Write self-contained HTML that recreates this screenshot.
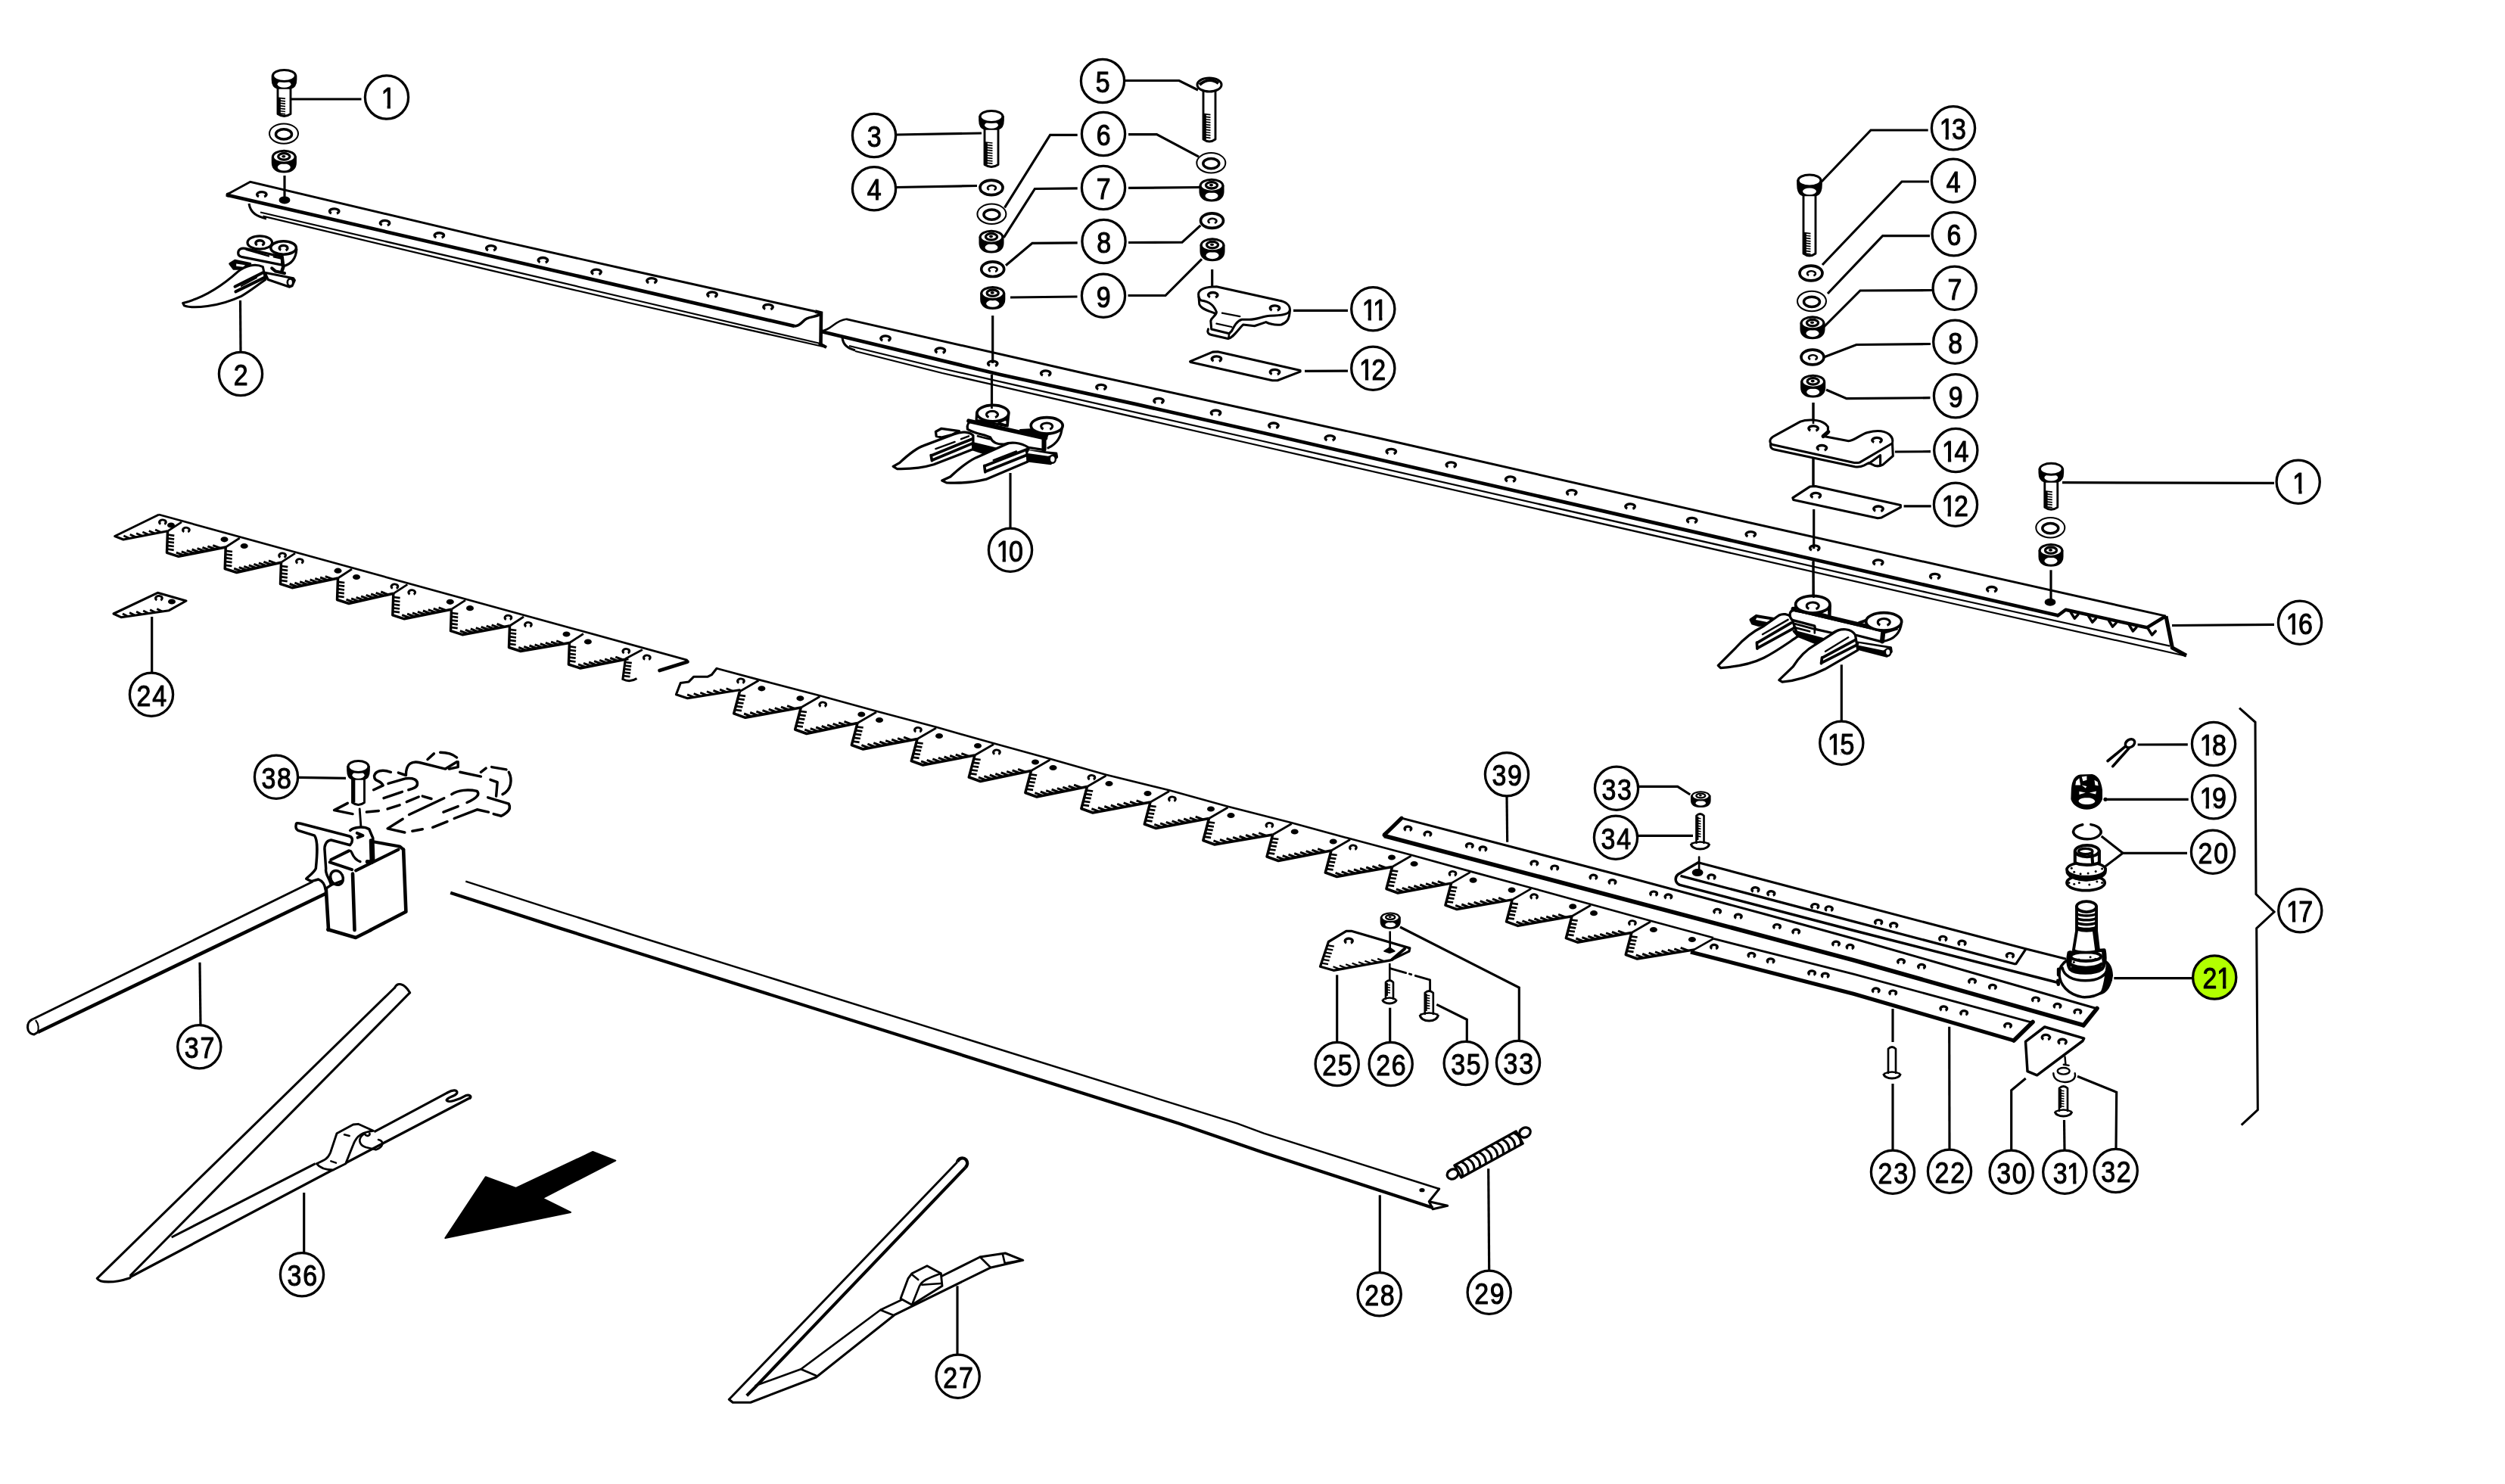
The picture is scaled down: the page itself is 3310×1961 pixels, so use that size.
<!DOCTYPE html>
<html lang="en"><head><meta charset="utf-8"><title>Parts diagram</title>
<style>
html,body{margin:0;padding:0;background:#fff;}
body{width:3310px;height:1961px;overflow:hidden;}
svg{display:block;position:absolute;left:0;top:0;}
svg{filter:blur(0.45px);}
svg text{font-family:"Liberation Sans",sans-serif;fill:#000;stroke:#000;stroke-width:1.15px;stroke-linejoin:round;}
</style></head><body>
<svg width="3310" height="1961" viewBox="0 0 3310 1961" fill="none" stroke-linecap="butt">
<line x1="384" y1="131" x2="477.5" y2="131" stroke="#000" stroke-width="3.16" />
<line x1="317.5" y1="397" x2="318" y2="465" stroke="#000" stroke-width="3.16" />
<polyline points="1184,178 1297,176" fill="none" stroke="#000" stroke-width="3.16" />
<polyline points="1184,247.5 1291,245.5" fill="none" stroke="#000" stroke-width="3.16" />
<polyline points="1487,106.5 1558,106.5 1583,119" fill="none" stroke="#000" stroke-width="3.16" />
<polyline points="1423.7,178.4 1387.6,178.4 1327.5,274.4" fill="none" stroke="#000" stroke-width="3.16" />
<polyline points="1491,177.6 1528.5,177.6 1584,207.2" fill="none" stroke="#000" stroke-width="3.16" />
<polyline points="1423.7,248.9 1367.4,249.5 1326.3,313.8" fill="none" stroke="#000" stroke-width="3.16" />
<polyline points="1491,248.4 1586.4,247.5" fill="none" stroke="#000" stroke-width="3.16" />
<polyline points="1423.7,320.8 1364,321.3 1329,350.7" fill="none" stroke="#000" stroke-width="3.16" />
<polyline points="1491,320.5 1562,320.2 1586.4,297.9" fill="none" stroke="#000" stroke-width="3.16" />
<polyline points="1423.5,392 1335,393" fill="none" stroke="#000" stroke-width="3.16" />
<polyline points="1490.5,390.5 1540,390.5 1588,342.3" fill="none" stroke="#000" stroke-width="3.16" />
<line x1="1335" y1="625" x2="1335" y2="698" stroke="#000" stroke-width="3.16" />
<line x1="1709" y1="410.3" x2="1781" y2="410.3" stroke="#000" stroke-width="3.16" />
<line x1="1724" y1="490.4" x2="1781" y2="490.2" stroke="#000" stroke-width="3.16" />
<polyline points="2407,240 2472,172 2547.7,172" fill="none" stroke="#000" stroke-width="3.16" />
<polyline points="2549,240 2513,240 2408,350" fill="none" stroke="#000" stroke-width="3.16" />
<polyline points="2550,311.7 2487.7,311.7 2415,388" fill="none" stroke="#000" stroke-width="3.16" />
<polyline points="2553,383.5 2458,384 2410,432" fill="none" stroke="#000" stroke-width="3.16" />
<polyline points="2551,454.5 2453,455.5 2410,472" fill="none" stroke="#000" stroke-width="3.16" />
<polyline points="2550.5,525.7 2440,526.7 2413,515" fill="none" stroke="#000" stroke-width="3.16" />
<line x1="2503.9" y1="597" x2="2551" y2="596.7" stroke="#000" stroke-width="3.16" />
<line x1="2515.6" y1="668.8" x2="2551.7" y2="668.8" stroke="#000" stroke-width="3.16" />
<line x1="2725" y1="637.7" x2="3005" y2="638.3" stroke="#000" stroke-width="3.16" />
<line x1="2870" y1="826.5" x2="3005" y2="825.3" stroke="#000" stroke-width="3.16" />
<line x1="2433.3" y1="878.3" x2="2433.3" y2="952" stroke="#000" stroke-width="3.16" />
<line x1="200.7" y1="815" x2="200.7" y2="889" stroke="#000" stroke-width="3.16" />
<line x1="395" y1="1027.3" x2="457" y2="1028.3" stroke="#000" stroke-width="3.16" />
<line x1="264" y1="1271.7" x2="265" y2="1355" stroke="#000" stroke-width="3.16" />
<line x1="401.7" y1="1576" x2="401.7" y2="1656" stroke="#000" stroke-width="3.16" />
<line x1="1265" y1="1699.3" x2="1265" y2="1790" stroke="#000" stroke-width="3.16" />
<line x1="1823.3" y1="1579.3" x2="1823.3" y2="1682" stroke="#000" stroke-width="3.16" />
<polyline points="1966.7,1544.3 1967.7,1679" fill="none" stroke="#000" stroke-width="3.16" />
<line x1="1991" y1="1052" x2="1991.7" y2="1112.7" stroke="#000" stroke-width="3.16" />
<polyline points="2165,1039.3 2216.7,1039.3 2233.3,1050" fill="none" stroke="#000" stroke-width="3.16" />
<line x1="2164" y1="1104.3" x2="2237" y2="1104.3" stroke="#000" stroke-width="3.16" />
<line x1="1766.7" y1="1288.3" x2="1766.7" y2="1378" stroke="#000" stroke-width="3.16" />
<line x1="1836.7" y1="1331.7" x2="1836.7" y2="1378" stroke="#000" stroke-width="3.16" />
<polyline points="1898.3,1327.3 1938.3,1347.3 1938.3,1377" fill="none" stroke="#000" stroke-width="3.16" />
<polyline points="1850,1225 2007.3,1305 2007.3,1376" fill="none" stroke="#000" stroke-width="3.16" />
<line x1="2824.6" y1="984" x2="2890.8" y2="983.8" stroke="#000" stroke-width="3.16" />
<line x1="2780" y1="1056.4" x2="2891.7" y2="1056.4" stroke="#000" stroke-width="3.16" />
<polyline points="2776.7,1105 2805,1127.3 2781.7,1145" fill="none" stroke="#000" stroke-width="3.16" />
<line x1="2805" y1="1127.3" x2="2890" y2="1127.3" stroke="#000" stroke-width="3.16" />
<line x1="2793.3" y1="1292.7" x2="2897" y2="1292.7" stroke="#000" stroke-width="3.16" />
<polyline points="2959,935.7 2980,954.3 2981,1181.7 3005,1205 2981.7,1226.7 2983.3,1466.7 2961.7,1486.7" fill="none" stroke="#000" stroke-width="3.06" />
<line x1="2501" y1="1333" x2="2501" y2="1377" stroke="#000" stroke-width="3.16" />
<line x1="2501" y1="1432" x2="2501" y2="1520" stroke="#000" stroke-width="3.16" />
<line x1="2575.7" y1="1356.7" x2="2576" y2="1519" stroke="#000" stroke-width="3.16" />
<polyline points="2676.7,1425 2657.7,1440.7 2657.7,1520" fill="none" stroke="#000" stroke-width="3.16" />
<line x1="2727.5" y1="1480" x2="2728" y2="1520" stroke="#000" stroke-width="3.16" />
<polyline points="2745,1422.3 2796.7,1443.3 2796,1518" fill="none" stroke="#000" stroke-width="3.16" />
<circle cx="511" cy="128.5" r="28.6" fill="#fff" stroke="#000" stroke-width="3.3"/>
<text transform="scale(0.86 1)" y="143.4" text-anchor="middle" font-size="39.5"><tspan x="596.7">1</tspan></text>
<rect x="504.9" y="138.5" width="6.7" height="7" fill="#fff"/>
<rect x="515.9" y="138.5" width="6.5" height="7" fill="#fff"/>
<circle cx="318" cy="494" r="28.6" fill="#fff" stroke="#000" stroke-width="3.3"/>
<text transform="scale(0.86 1)" y="508.9" text-anchor="middle" font-size="39.5"><tspan x="370.1">2</tspan></text>
<circle cx="1155" cy="179" r="28.6" fill="#fff" stroke="#000" stroke-width="3.3"/>
<text transform="scale(0.86 1)" y="193.9" text-anchor="middle" font-size="39.5"><tspan x="1343.4">3</tspan></text>
<circle cx="1155" cy="249.3" r="28.6" fill="#fff" stroke="#000" stroke-width="3.3"/>
<text transform="scale(0.86 1)" y="264.2" text-anchor="middle" font-size="39.5"><tspan x="1343.4">4</tspan></text>
<circle cx="1457" cy="107" r="28.6" fill="#fff" stroke="#000" stroke-width="3.3"/>
<text transform="scale(0.86 1)" y="121.9" text-anchor="middle" font-size="39.5"><tspan x="1694.5">5</tspan></text>
<circle cx="1458" cy="177" r="28.6" fill="#fff" stroke="#000" stroke-width="3.3"/>
<text transform="scale(0.86 1)" y="191.9" text-anchor="middle" font-size="39.5"><tspan x="1695.7">6</tspan></text>
<circle cx="1458" cy="248" r="28.6" fill="#fff" stroke="#000" stroke-width="3.3"/>
<text transform="scale(0.86 1)" y="262.9" text-anchor="middle" font-size="39.5"><tspan x="1695.7">7</tspan></text>
<circle cx="1458.5" cy="319" r="28.6" fill="#fff" stroke="#000" stroke-width="3.3"/>
<text transform="scale(0.86 1)" y="333.9" text-anchor="middle" font-size="39.5"><tspan x="1696.3">8</tspan></text>
<circle cx="1458" cy="390.7" r="28.6" fill="#fff" stroke="#000" stroke-width="3.3"/>
<text transform="scale(0.86 1)" y="405.6" text-anchor="middle" font-size="39.5"><tspan x="1695.7">9</tspan></text>
<circle cx="1335" cy="726.7" r="28.6" fill="#fff" stroke="#000" stroke-width="3.3"/>
<text transform="scale(0.86 1)" y="741.6" text-anchor="middle" font-size="39.5"><tspan x="1542">1</tspan><tspan x="1561.1">0</tspan></text>
<rect x="1317.9" y="736.7" width="6.7" height="7" fill="#fff"/>
<rect x="1328.9" y="736.7" width="6.5" height="7" fill="#fff"/>
<circle cx="1814.3" cy="408.3" r="28.6" fill="#fff" stroke="#000" stroke-width="3.3"/>
<text transform="scale(0.86 1)" y="423.2" text-anchor="middle" font-size="39.5"><tspan x="2103.7">1</tspan><tspan x="2120.6">1</tspan></text>
<rect x="1801" y="418.3" width="6.7" height="7" fill="#fff"/>
<rect x="1811.9" y="418.3" width="4.5" height="7" fill="#fff"/>
<rect x="1815.5" y="418.3" width="6.7" height="7" fill="#fff"/>
<rect x="1826.4" y="418.3" width="6.5" height="7" fill="#fff"/>
<circle cx="1814.3" cy="486.7" r="28.6" fill="#fff" stroke="#000" stroke-width="3.3"/>
<text transform="scale(0.86 1)" y="501.6" text-anchor="middle" font-size="39.5"><tspan x="2099.4">1</tspan><tspan x="2118.4">2</tspan></text>
<rect x="1797.2" y="496.7" width="6.7" height="7" fill="#fff"/>
<rect x="1808.2" y="496.7" width="5.5" height="7" fill="#fff"/>
<circle cx="2581" cy="169.3" r="28.6" fill="#fff" stroke="#000" stroke-width="3.3"/>
<text transform="scale(0.86 1)" y="184.2" text-anchor="middle" font-size="39.5"><tspan x="2990.9">1</tspan><tspan x="3009.9">3</tspan></text>
<rect x="2563.9" y="179.3" width="6.7" height="7" fill="#fff"/>
<rect x="2574.9" y="179.3" width="5.5" height="7" fill="#fff"/>
<circle cx="2581" cy="238.7" r="28.6" fill="#fff" stroke="#000" stroke-width="3.3"/>
<text transform="scale(0.86 1)" y="253.6" text-anchor="middle" font-size="39.5"><tspan x="3001.5">4</tspan></text>
<circle cx="2581.7" cy="309.3" r="28.6" fill="#fff" stroke="#000" stroke-width="3.3"/>
<text transform="scale(0.86 1)" y="324.2" text-anchor="middle" font-size="39.5"><tspan x="3002.3">6</tspan></text>
<circle cx="2582.7" cy="380.7" r="28.6" fill="#fff" stroke="#000" stroke-width="3.3"/>
<text transform="scale(0.86 1)" y="395.6" text-anchor="middle" font-size="39.5"><tspan x="3003.5">7</tspan></text>
<circle cx="2583.3" cy="451.7" r="28.6" fill="#fff" stroke="#000" stroke-width="3.3"/>
<text transform="scale(0.86 1)" y="466.6" text-anchor="middle" font-size="39.5"><tspan x="3004.2">8</tspan></text>
<circle cx="2584" cy="523.3" r="28.6" fill="#fff" stroke="#000" stroke-width="3.3"/>
<text transform="scale(0.86 1)" y="538.2" text-anchor="middle" font-size="39.5"><tspan x="3005">9</tspan></text>
<circle cx="2584.3" cy="595" r="28.6" fill="#fff" stroke="#000" stroke-width="3.3"/>
<text transform="scale(0.86 1)" y="609.9" text-anchor="middle" font-size="39.5"><tspan x="2994.7">1</tspan><tspan x="3013.8">4</tspan></text>
<rect x="2567.2" y="605" width="6.7" height="7" fill="#fff"/>
<rect x="2578.2" y="605" width="6.5" height="7" fill="#fff"/>
<circle cx="2584" cy="666.7" r="28.6" fill="#fff" stroke="#000" stroke-width="3.3"/>
<text transform="scale(0.86 1)" y="681.6" text-anchor="middle" font-size="39.5"><tspan x="2994.4">1</tspan><tspan x="3013.4">2</tspan></text>
<rect x="2566.9" y="676.7" width="6.7" height="7" fill="#fff"/>
<rect x="2577.9" y="676.7" width="5.5" height="7" fill="#fff"/>
<circle cx="3036.7" cy="636.7" r="28.6" fill="#fff" stroke="#000" stroke-width="3.3"/>
<text transform="scale(0.86 1)" y="651.6" text-anchor="middle" font-size="39.5"><tspan x="3533.5">1</tspan></text>
<rect x="3030.6" y="646.7" width="6.7" height="7" fill="#fff"/>
<rect x="3041.6" y="646.7" width="6.5" height="7" fill="#fff"/>
<circle cx="3039" cy="822.7" r="28.6" fill="#fff" stroke="#000" stroke-width="3.3"/>
<text transform="scale(0.86 1)" y="837.6" text-anchor="middle" font-size="39.5"><tspan x="3523.4">1</tspan><tspan x="3542.5">6</tspan></text>
<rect x="3021.9" y="832.7" width="6.7" height="7" fill="#fff"/>
<rect x="3032.9" y="832.7" width="6.5" height="7" fill="#fff"/>
<circle cx="2433.3" cy="981.7" r="28.6" fill="#fff" stroke="#000" stroke-width="3.3"/>
<text transform="scale(0.86 1)" y="996.6" text-anchor="middle" font-size="39.5"><tspan x="2819.1">1</tspan><tspan x="2838.2">5</tspan></text>
<rect x="2416.2" y="991.7" width="6.7" height="7" fill="#fff"/>
<rect x="2427.2" y="991.7" width="5.5" height="7" fill="#fff"/>
<circle cx="3039.3" cy="1203.3" r="28.6" fill="#fff" stroke="#000" stroke-width="3.3"/>
<text transform="scale(0.86 1)" y="1218.2" text-anchor="middle" font-size="39.5"><tspan x="3523.8">1</tspan><tspan x="3542.8">7</tspan></text>
<rect x="3022.2" y="1213.3" width="6.7" height="7" fill="#fff"/>
<rect x="3033.2" y="1213.3" width="6.5" height="7" fill="#fff"/>
<circle cx="2925" cy="983" r="28.6" fill="#fff" stroke="#000" stroke-width="3.3"/>
<text transform="scale(0.86 1)" y="997.9" text-anchor="middle" font-size="39.5"><tspan x="3390.9">1</tspan><tspan x="3409.9">8</tspan></text>
<rect x="2907.9" y="993" width="6.7" height="7" fill="#fff"/>
<rect x="2918.9" y="993" width="5.5" height="7" fill="#fff"/>
<circle cx="2925" cy="1053.3" r="28.6" fill="#fff" stroke="#000" stroke-width="3.3"/>
<text transform="scale(0.86 1)" y="1068.2" text-anchor="middle" font-size="39.5"><tspan x="3390.9">1</tspan><tspan x="3409.9">9</tspan></text>
<rect x="2907.9" y="1063.3" width="6.7" height="7" fill="#fff"/>
<rect x="2918.9" y="1063.3" width="5.5" height="7" fill="#fff"/>
<circle cx="2924" cy="1125.7" r="28.6" fill="#fff" stroke="#000" stroke-width="3.3"/>
<text transform="scale(0.86 1)" y="1140.6" text-anchor="middle" font-size="39.5"><tspan x="3388.4">2</tspan><tspan x="3412.3">0</tspan></text>
<circle cx="200" cy="917.7" r="28.6" fill="#fff" stroke="#000" stroke-width="3.3"/>
<text transform="scale(0.86 1)" y="932.6" text-anchor="middle" font-size="39.5"><tspan x="220.9">2</tspan><tspan x="244.9">4</tspan></text>
<circle cx="365" cy="1026.7" r="28.6" fill="#fff" stroke="#000" stroke-width="3.3"/>
<text transform="scale(0.86 1)" y="1041.6" text-anchor="middle" font-size="39.5"><tspan x="412.8">3</tspan><tspan x="436.7">8</tspan></text>
<circle cx="263.3" cy="1383.3" r="28.6" fill="#fff" stroke="#000" stroke-width="3.3"/>
<text transform="scale(0.86 1)" y="1398.2" text-anchor="middle" font-size="39.5"><tspan x="294.5">3</tspan><tspan x="318.5">7</tspan></text>
<circle cx="399" cy="1684.3" r="28.6" fill="#fff" stroke="#000" stroke-width="3.3"/>
<text transform="scale(0.86 1)" y="1699.2" text-anchor="middle" font-size="39.5"><tspan x="452.3">3</tspan><tspan x="476.3">6</tspan></text>
<circle cx="1265.7" cy="1818.7" r="28.6" fill="#fff" stroke="#000" stroke-width="3.3"/>
<text transform="scale(0.86 1)" y="1833.6" text-anchor="middle" font-size="39.5"><tspan x="1460.1">2</tspan><tspan x="1484.1">7</tspan></text>
<circle cx="1822.7" cy="1710.3" r="28.6" fill="#fff" stroke="#000" stroke-width="3.3"/>
<text transform="scale(0.86 1)" y="1725.2" text-anchor="middle" font-size="39.5"><tspan x="2107.8">2</tspan><tspan x="2131.7">8</tspan></text>
<circle cx="1967.7" cy="1707.7" r="28.6" fill="#fff" stroke="#000" stroke-width="3.3"/>
<text transform="scale(0.86 1)" y="1722.6" text-anchor="middle" font-size="39.5"><tspan x="2276.4">2</tspan><tspan x="2300.3">9</tspan></text>
<circle cx="1991" cy="1023.3" r="28.6" fill="#fff" stroke="#000" stroke-width="3.3"/>
<text transform="scale(0.86 1)" y="1038.2" text-anchor="middle" font-size="39.5"><tspan x="2303.5">3</tspan><tspan x="2327.4">9</tspan></text>
<circle cx="2136" cy="1041.7" r="28.6" fill="#fff" stroke="#000" stroke-width="3.3"/>
<text transform="scale(0.86 1)" y="1056.6" text-anchor="middle" font-size="39.5"><tspan x="2472.1">3</tspan><tspan x="2496">3</tspan></text>
<circle cx="2135" cy="1106.7" r="28.6" fill="#fff" stroke="#000" stroke-width="3.3"/>
<text transform="scale(0.86 1)" y="1121.6" text-anchor="middle" font-size="39.5"><tspan x="2470.9">3</tspan><tspan x="2494.9">4</tspan></text>
<circle cx="1766.7" cy="1406" r="28.6" fill="#fff" stroke="#000" stroke-width="3.3"/>
<text transform="scale(0.86 1)" y="1420.9" text-anchor="middle" font-size="39.5"><tspan x="2042.7">2</tspan><tspan x="2066.6">5</tspan></text>
<circle cx="1837.7" cy="1406" r="28.6" fill="#fff" stroke="#000" stroke-width="3.3"/>
<text transform="scale(0.86 1)" y="1420.9" text-anchor="middle" font-size="39.5"><tspan x="2125.2">2</tspan><tspan x="2149.2">6</tspan></text>
<circle cx="1936.7" cy="1405" r="28.6" fill="#fff" stroke="#000" stroke-width="3.3"/>
<text transform="scale(0.86 1)" y="1419.9" text-anchor="middle" font-size="39.5"><tspan x="2240.3">3</tspan><tspan x="2264.3">5</tspan></text>
<circle cx="2006" cy="1404" r="28.6" fill="#fff" stroke="#000" stroke-width="3.3"/>
<text transform="scale(0.86 1)" y="1418.9" text-anchor="middle" font-size="39.5"><tspan x="2320.9">3</tspan><tspan x="2344.9">3</tspan></text>
<circle cx="2501" cy="1548.7" r="28.6" fill="#fff" stroke="#000" stroke-width="3.3"/>
<text transform="scale(0.86 1)" y="1563.6" text-anchor="middle" font-size="39.5"><tspan x="2896.5">2</tspan><tspan x="2920.5">3</tspan></text>
<circle cx="2576" cy="1547.7" r="28.6" fill="#fff" stroke="#000" stroke-width="3.3"/>
<text transform="scale(0.86 1)" y="1562.6" text-anchor="middle" font-size="39.5"><tspan x="2983.7">2</tspan><tspan x="3007.7">2</tspan></text>
<circle cx="2657.7" cy="1548.7" r="28.6" fill="#fff" stroke="#000" stroke-width="3.3"/>
<text transform="scale(0.86 1)" y="1563.6" text-anchor="middle" font-size="39.5"><tspan x="3078.7">3</tspan><tspan x="3102.7">0</tspan></text>
<circle cx="2728.3" cy="1548.7" r="28.6" fill="#fff" stroke="#000" stroke-width="3.3"/>
<text transform="scale(0.86 1)" y="1563.6" text-anchor="middle" font-size="39.5"><tspan x="3165.2">3</tspan><tspan x="3186.9">1</tspan></text>
<rect x="2732.5" y="1558.7" width="6.7" height="7" fill="#fff"/>
<rect x="2743.5" y="1558.7" width="6.5" height="7" fill="#fff"/>
<circle cx="2795.7" cy="1547" r="28.6" fill="#fff" stroke="#000" stroke-width="3.3"/>
<text transform="scale(0.86 1)" y="1561.9" text-anchor="middle" font-size="39.5"><tspan x="3239.2">3</tspan><tspan x="3263.1">2</tspan></text>
<circle cx="2926.2" cy="1291.5" r="28.6" fill="#b2ff00" stroke="#000" stroke-width="3.3"/>
<text transform="scale(0.86 1)" y="1306.4" text-anchor="middle" font-size="39.5"><tspan x="3395.3">2</tspan><tspan x="3417">1</tspan></text>
<rect x="2930.4" y="1301.5" width="6.7" height="7" fill="#b2ff00"/>
<rect x="2941.4" y="1301.5" width="6.5" height="7" fill="#b2ff00"/>
<path d="M367 113.5L367 150.5Q375.5 156.5 384 150.5L384 113.5" fill="#fff" stroke="#000" stroke-width="2.86" stroke-linejoin="round"/>
<line x1="368" y1="129.4" x2="377" y2="130.4" stroke="#000" stroke-width="1.73" />
<line x1="368" y1="132.8" x2="377" y2="133.8" stroke="#000" stroke-width="1.73" />
<line x1="368" y1="136.2" x2="377" y2="137.2" stroke="#000" stroke-width="1.73" />
<line x1="368" y1="139.7" x2="377" y2="140.7" stroke="#000" stroke-width="1.73" />
<line x1="368" y1="143.1" x2="377" y2="144.1" stroke="#000" stroke-width="1.73" />
<line x1="368" y1="146.5" x2="377" y2="147.5" stroke="#000" stroke-width="1.73" />
<line x1="368" y1="149.9" x2="377" y2="150.9" stroke="#000" stroke-width="1.73" />
<line x1="369.2" y1="129.4" x2="369.2" y2="150.5" stroke="#000" stroke-width="3.26" />
<path d="M360 100L360 105C360 111.5 363.1 115.5 367 116.5L384 116.5C387.9 115.5 391 111.5 391 105L391 100Z" fill="#000" stroke="#000" stroke-width="2.65" stroke-linejoin="round"/>
<ellipse cx="375.5" cy="111.3" rx="9" ry="4.4" fill="#fff" stroke="#000" stroke-width="0" />
<ellipse cx="375.5" cy="100" rx="15" ry="7.5" fill="#fff" stroke="#000" stroke-width="3.06" />
<ellipse cx="375" cy="176.6" rx="19" ry="13.2" fill="#fff" stroke="#000" stroke-width="2.04" />
<ellipse cx="375" cy="177.4" rx="10.5" ry="6.6" fill="#fff" stroke="#000" stroke-width="3.47" />
<path d="M360.1 207.2L360.1 215.2C360.1 223.2 366.2 227.2 375.3 227.2C384.4 227.2 390.6 223.2 390.6 215.2L390.6 207.2Z" fill="#000" stroke="#000" stroke-width="2.65" stroke-linejoin="round"/>
<ellipse cx="375.3" cy="220.9" rx="8.5" ry="4.6" fill="#fff" stroke="#000" stroke-width="0" />
<ellipse cx="375.3" cy="207.2" rx="14.8" ry="8" fill="#fff" stroke="#000" stroke-width="3.06" />
<ellipse cx="375.3" cy="206.9" rx="7.6" ry="4.2" fill="#fff" stroke="#000" stroke-width="3.26" />
<ellipse cx="374.8" cy="206.7" rx="2.6" ry="1.8" fill="#000" stroke="#000" stroke-width="0" />
<line x1="376" y1="232" x2="376" y2="262" stroke="#000" stroke-width="3.16" />
<path d="M1301 167.5L1301 217.5Q1310 223.5 1319 217.5L1319 167.5" fill="#fff" stroke="#000" stroke-width="2.86" stroke-linejoin="round"/>
<line x1="1302" y1="188" x2="1311.5" y2="189" stroke="#000" stroke-width="1.73" />
<line x1="1302" y1="191.4" x2="1311.5" y2="192.4" stroke="#000" stroke-width="1.73" />
<line x1="1302" y1="194.8" x2="1311.5" y2="195.8" stroke="#000" stroke-width="1.73" />
<line x1="1302" y1="198.2" x2="1311.5" y2="199.2" stroke="#000" stroke-width="1.73" />
<line x1="1302" y1="201.6" x2="1311.5" y2="202.6" stroke="#000" stroke-width="1.73" />
<line x1="1302" y1="205" x2="1311.5" y2="206" stroke="#000" stroke-width="1.73" />
<line x1="1302" y1="208.4" x2="1311.5" y2="209.4" stroke="#000" stroke-width="1.73" />
<line x1="1302" y1="211.8" x2="1311.5" y2="212.8" stroke="#000" stroke-width="1.73" />
<line x1="1302" y1="215.2" x2="1311.5" y2="216.2" stroke="#000" stroke-width="1.73" />
<line x1="1303.2" y1="188" x2="1303.2" y2="217.5" stroke="#000" stroke-width="3.26" />
<path d="M1294.5 154L1294.5 159C1294.5 165.5 1297.6 169.5 1301.5 170.5L1318.5 170.5C1322.4 169.5 1325.5 165.5 1325.5 159L1325.5 154Z" fill="#000" stroke="#000" stroke-width="2.65" stroke-linejoin="round"/>
<ellipse cx="1310" cy="165.3" rx="9" ry="4.4" fill="#fff" stroke="#000" stroke-width="0" />
<ellipse cx="1310" cy="154" rx="15" ry="7.5" fill="#fff" stroke="#000" stroke-width="3.06" />
<ellipse cx="1310" cy="247.9" rx="15" ry="9.8" fill="#fff" stroke="#000" stroke-width="3.67" />
<path d="M1307.1 250.9A5.5 3.2 0 1 1 1313.4 251.1" fill="none" stroke="#000" stroke-width="2.65" />
<ellipse cx="1310.4" cy="282.8" rx="19" ry="13.2" fill="#fff" stroke="#000" stroke-width="2.04" />
<ellipse cx="1310.4" cy="283.6" rx="10.5" ry="6.6" fill="#fff" stroke="#000" stroke-width="3.47" />
<path d="M1294.8 313.2L1294.8 321.2C1294.8 329.2 1300.8 333.2 1310 333.2C1319.2 333.2 1325.2 329.2 1325.2 321.2L1325.2 313.2Z" fill="#000" stroke="#000" stroke-width="2.65" stroke-linejoin="round"/>
<ellipse cx="1310" cy="326.9" rx="8.5" ry="4.6" fill="#fff" stroke="#000" stroke-width="0" />
<ellipse cx="1310" cy="313.2" rx="14.8" ry="8" fill="#fff" stroke="#000" stroke-width="3.06" />
<ellipse cx="1310" cy="312.9" rx="7.6" ry="4.2" fill="#fff" stroke="#000" stroke-width="3.26" />
<ellipse cx="1309.5" cy="312.6" rx="2.6" ry="1.8" fill="#000" stroke="#000" stroke-width="0" />
<ellipse cx="1311.7" cy="355.7" rx="15" ry="9.8" fill="#fff" stroke="#000" stroke-width="3.67" />
<path d="M1308.8 358.7A5.5 3.2 0 1 1 1315.1 358.9" fill="none" stroke="#000" stroke-width="2.65" />
<path d="M1296.5 387.6L1296.5 395.6C1296.5 403.6 1302.5 407.6 1311.7 407.6C1320.9 407.6 1327 403.6 1327 395.6L1327 387.6Z" fill="#000" stroke="#000" stroke-width="2.65" stroke-linejoin="round"/>
<ellipse cx="1311.7" cy="401.2" rx="8.5" ry="4.6" fill="#fff" stroke="#000" stroke-width="0" />
<ellipse cx="1311.7" cy="387.6" rx="14.8" ry="8" fill="#fff" stroke="#000" stroke-width="3.06" />
<ellipse cx="1311.7" cy="387.2" rx="7.6" ry="4.2" fill="#fff" stroke="#000" stroke-width="3.26" />
<ellipse cx="1311.2" cy="386.9" rx="2.6" ry="1.8" fill="#000" stroke="#000" stroke-width="0" />
<line x1="1311.7" y1="417" x2="1311.7" y2="480" stroke="#000" stroke-width="3.16" />
<line x1="1310.5" y1="495" x2="1310.5" y2="538" stroke="#000" stroke-width="3.16" />
<path d="M1590 118L1590 184Q1598 190 1606 184L1606 118" fill="#fff" stroke="#000" stroke-width="2.86" stroke-linejoin="round"/>
<line x1="1591" y1="150.7" x2="1599.5" y2="151.7" stroke="#000" stroke-width="1.73" />
<line x1="1591" y1="154.1" x2="1599.5" y2="155.1" stroke="#000" stroke-width="1.73" />
<line x1="1591" y1="157.5" x2="1599.5" y2="158.5" stroke="#000" stroke-width="1.73" />
<line x1="1591" y1="160.9" x2="1599.5" y2="161.9" stroke="#000" stroke-width="1.73" />
<line x1="1591" y1="164.3" x2="1599.5" y2="165.3" stroke="#000" stroke-width="1.73" />
<line x1="1591" y1="167.7" x2="1599.5" y2="168.7" stroke="#000" stroke-width="1.73" />
<line x1="1591" y1="171.1" x2="1599.5" y2="172.1" stroke="#000" stroke-width="1.73" />
<line x1="1591" y1="174.5" x2="1599.5" y2="175.5" stroke="#000" stroke-width="1.73" />
<line x1="1591" y1="177.9" x2="1599.5" y2="178.9" stroke="#000" stroke-width="1.73" />
<line x1="1591" y1="181.3" x2="1599.5" y2="182.3" stroke="#000" stroke-width="1.73" />
<line x1="1592.2" y1="150.7" x2="1592.2" y2="184" stroke="#000" stroke-width="3.26" />
<ellipse cx="1598" cy="112" rx="16" ry="9" fill="#fff" stroke="#000" stroke-width="3.06" />
<path d="M1585 112Q1598 101 1610 110.2" fill="none" stroke="#000" stroke-width="4.08" />
<ellipse cx="1600.3" cy="215.3" rx="19" ry="13.2" fill="#fff" stroke="#000" stroke-width="2.04" />
<ellipse cx="1600.3" cy="216.1" rx="10.5" ry="6.6" fill="#fff" stroke="#000" stroke-width="3.47" />
<path d="M1585.8 245.2L1585.8 253.2C1585.8 261.1 1591.8 265.1 1601 265.1C1610.2 265.1 1616.2 261.1 1616.2 253.2L1616.2 245.2Z" fill="#000" stroke="#000" stroke-width="2.65" stroke-linejoin="round"/>
<ellipse cx="1601" cy="258.8" rx="8.5" ry="4.6" fill="#fff" stroke="#000" stroke-width="0" />
<ellipse cx="1601" cy="245.2" rx="14.8" ry="8" fill="#fff" stroke="#000" stroke-width="3.06" />
<ellipse cx="1601" cy="244.8" rx="7.6" ry="4.2" fill="#fff" stroke="#000" stroke-width="3.26" />
<ellipse cx="1600.5" cy="244.6" rx="2.6" ry="1.8" fill="#000" stroke="#000" stroke-width="0" />
<ellipse cx="1601.5" cy="291.6" rx="15" ry="9.8" fill="#fff" stroke="#000" stroke-width="3.67" />
<path d="M1598.6 294.6A5.5 3.2 0 1 1 1604.9 294.8" fill="none" stroke="#000" stroke-width="2.65" />
<path d="M1586.8 323.9L1586.8 331.9C1586.8 339.9 1592.8 343.9 1602 343.9C1611.2 343.9 1617.2 339.9 1617.2 331.9L1617.2 323.9Z" fill="#000" stroke="#000" stroke-width="2.65" stroke-linejoin="round"/>
<ellipse cx="1602" cy="337.6" rx="8.5" ry="4.6" fill="#fff" stroke="#000" stroke-width="0" />
<ellipse cx="1602" cy="323.9" rx="14.8" ry="8" fill="#fff" stroke="#000" stroke-width="3.06" />
<ellipse cx="1602" cy="323.6" rx="7.6" ry="4.2" fill="#fff" stroke="#000" stroke-width="3.26" />
<ellipse cx="1601.5" cy="323.3" rx="2.6" ry="1.8" fill="#000" stroke="#000" stroke-width="0" />
<line x1="1601.7" y1="356" x2="1601.7" y2="388" stroke="#000" stroke-width="3.16" />
<path d="M2383 255L2383 335Q2391 341 2399 335L2399 255" fill="#fff" stroke="#000" stroke-width="2.86" stroke-linejoin="round"/>
<line x1="2384" y1="307.6" x2="2392.5" y2="308.6" stroke="#000" stroke-width="1.73" />
<line x1="2384" y1="311" x2="2392.5" y2="312" stroke="#000" stroke-width="1.73" />
<line x1="2384" y1="314.4" x2="2392.5" y2="315.4" stroke="#000" stroke-width="1.73" />
<line x1="2384" y1="317.8" x2="2392.5" y2="318.8" stroke="#000" stroke-width="1.73" />
<line x1="2384" y1="321.2" x2="2392.5" y2="322.2" stroke="#000" stroke-width="1.73" />
<line x1="2384" y1="324.6" x2="2392.5" y2="325.6" stroke="#000" stroke-width="1.73" />
<line x1="2384" y1="328" x2="2392.5" y2="329" stroke="#000" stroke-width="1.73" />
<line x1="2384" y1="331.4" x2="2392.5" y2="332.4" stroke="#000" stroke-width="1.73" />
<line x1="2384" y1="334.8" x2="2392.5" y2="335.8" stroke="#000" stroke-width="1.73" />
<line x1="2385.2" y1="307.6" x2="2385.2" y2="335" stroke="#000" stroke-width="3.26" />
<path d="M2375.5 238.5L2375.5 243.5C2375.5 253 2378.6 257 2382.5 258L2399.5 258C2403.4 257 2406.5 253 2406.5 243.5L2406.5 238.5Z" fill="#000" stroke="#000" stroke-width="2.65" stroke-linejoin="round"/>
<ellipse cx="2391" cy="252.8" rx="9" ry="4.4" fill="#fff" stroke="#000" stroke-width="0" />
<ellipse cx="2391" cy="238.5" rx="15" ry="7.5" fill="#fff" stroke="#000" stroke-width="3.06" />
<ellipse cx="2393" cy="361" rx="15" ry="9.8" fill="#fff" stroke="#000" stroke-width="3.67" />
<path d="M2390.1 364A5.5 3.2 0 1 1 2396.4 364.2" fill="none" stroke="#000" stroke-width="2.65" />
<ellipse cx="2394" cy="398" rx="19" ry="13.2" fill="#fff" stroke="#000" stroke-width="2.04" />
<ellipse cx="2394" cy="398.8" rx="10.5" ry="6.6" fill="#fff" stroke="#000" stroke-width="3.47" />
<path d="M2379.8 426.9L2379.8 434.9C2379.8 442.9 2385.8 446.9 2395 446.9C2404.2 446.9 2410.2 442.9 2410.2 434.9L2410.2 426.9Z" fill="#000" stroke="#000" stroke-width="2.65" stroke-linejoin="round"/>
<ellipse cx="2395" cy="440.6" rx="8.5" ry="4.6" fill="#fff" stroke="#000" stroke-width="0" />
<ellipse cx="2395" cy="426.9" rx="14.8" ry="8" fill="#fff" stroke="#000" stroke-width="3.06" />
<ellipse cx="2395" cy="426.6" rx="7.6" ry="4.2" fill="#fff" stroke="#000" stroke-width="3.26" />
<ellipse cx="2394.5" cy="426.3" rx="2.6" ry="1.8" fill="#000" stroke="#000" stroke-width="0" />
<ellipse cx="2395" cy="472" rx="15" ry="9.8" fill="#fff" stroke="#000" stroke-width="3.67" />
<path d="M2392.1 475A5.5 3.2 0 1 1 2398.4 475.2" fill="none" stroke="#000" stroke-width="2.65" />
<path d="M2380.4 504.2L2380.4 512.2C2380.4 520.2 2386.5 524.2 2395.7 524.2C2404.8 524.2 2410.9 520.2 2410.9 512.2L2410.9 504.2Z" fill="#000" stroke="#000" stroke-width="2.65" stroke-linejoin="round"/>
<ellipse cx="2395.7" cy="518" rx="8.5" ry="4.6" fill="#fff" stroke="#000" stroke-width="0" />
<ellipse cx="2395.7" cy="504.2" rx="14.8" ry="8" fill="#fff" stroke="#000" stroke-width="3.06" />
<ellipse cx="2395.7" cy="503.9" rx="7.6" ry="4.2" fill="#fff" stroke="#000" stroke-width="3.26" />
<ellipse cx="2395.2" cy="503.6" rx="2.6" ry="1.8" fill="#000" stroke="#000" stroke-width="0" />
<line x1="2396" y1="532" x2="2396" y2="563" stroke="#000" stroke-width="3.16" />
<line x1="2396" y1="605" x2="2396" y2="643" stroke="#000" stroke-width="3.16" />
<line x1="2396.7" y1="673" x2="2396.7" y2="725" stroke="#000" stroke-width="3.16" />
<line x1="2396" y1="742" x2="2396" y2="790" stroke="#000" stroke-width="3.16" />
<path d="M2701.8 633.3L2701.8 670.3Q2710.3 676.3 2718.8 670.3L2718.8 633.3" fill="#fff" stroke="#000" stroke-width="2.86" stroke-linejoin="round"/>
<line x1="2702.8" y1="649.2" x2="2711.8" y2="650.2" stroke="#000" stroke-width="1.73" />
<line x1="2702.8" y1="652.6" x2="2711.8" y2="653.6" stroke="#000" stroke-width="1.73" />
<line x1="2702.8" y1="656" x2="2711.8" y2="657" stroke="#000" stroke-width="1.73" />
<line x1="2702.8" y1="659.4" x2="2711.8" y2="660.4" stroke="#000" stroke-width="1.73" />
<line x1="2702.8" y1="662.8" x2="2711.8" y2="663.8" stroke="#000" stroke-width="1.73" />
<line x1="2702.8" y1="666.2" x2="2711.8" y2="667.2" stroke="#000" stroke-width="1.73" />
<line x1="2702.8" y1="669.6" x2="2711.8" y2="670.6" stroke="#000" stroke-width="1.73" />
<line x1="2704" y1="649.2" x2="2704" y2="670.3" stroke="#000" stroke-width="3.26" />
<path d="M2694.8 619.8L2694.8 624.8C2694.8 631.3 2697.9 635.3 2701.8 636.3L2718.8 636.3C2722.7 635.3 2725.8 631.3 2725.8 624.8L2725.8 619.8Z" fill="#000" stroke="#000" stroke-width="2.65" stroke-linejoin="round"/>
<ellipse cx="2710.3" cy="631.1" rx="9" ry="4.4" fill="#fff" stroke="#000" stroke-width="0" />
<ellipse cx="2710.3" cy="619.8" rx="15" ry="7.5" fill="#fff" stroke="#000" stroke-width="3.06" />
<ellipse cx="2709.3" cy="697.3" rx="19" ry="13.2" fill="#fff" stroke="#000" stroke-width="2.04" />
<ellipse cx="2709.3" cy="698.1" rx="10.5" ry="6.6" fill="#fff" stroke="#000" stroke-width="3.47" />
<path d="M2694.8 727.5L2694.8 735.5C2694.8 743.5 2700.8 747.5 2710 747.5C2719.2 747.5 2725.2 743.5 2725.2 735.5L2725.2 727.5Z" fill="#000" stroke="#000" stroke-width="2.65" stroke-linejoin="round"/>
<ellipse cx="2710" cy="741.2" rx="8.5" ry="4.6" fill="#fff" stroke="#000" stroke-width="0" />
<ellipse cx="2710" cy="727.5" rx="14.8" ry="8" fill="#fff" stroke="#000" stroke-width="3.06" />
<ellipse cx="2710" cy="727.2" rx="7.6" ry="4.2" fill="#fff" stroke="#000" stroke-width="3.26" />
<ellipse cx="2709.5" cy="726.9" rx="2.6" ry="1.8" fill="#000" stroke="#000" stroke-width="0" />
<line x1="2710" y1="753.3" x2="2710" y2="793" stroke="#000" stroke-width="3.16" />
<polyline points="300,257 330.7,240.3 650,315.8 835,357.5 1077,411.5" fill="none" stroke="#000" stroke-width="2.86" />
<line x1="299" y1="257.5" x2="1050" y2="431" stroke="#000" stroke-width="4.69" />
<ellipse cx="301.5" cy="257.5" rx="3" ry="3" fill="#000" stroke="#000" stroke-width="0" />
<path d="M329 269C331 282 340 286 352 289" fill="none" stroke="#000" stroke-width="3.06" />
<polyline points="344,280.5 650,351.8 835,395.5 1082,453.5" fill="none" stroke="#000" stroke-width="2.24" />
<polyline points="347.4,285.6 650,357.7 835,401 1092,459" fill="none" stroke="#000" stroke-width="2.24" />
<path d="M1050 431C1058 431 1060 424 1066 421C1072 418 1078 419 1084 415" fill="none" stroke="#000" stroke-width="3.47" />
<polyline points="1077,411.5 1085,413.5 1084.5,455" fill="none" stroke="#000" stroke-width="4.59" />
<polyline points="1082,453.5 1092,459" fill="none" stroke="#000" stroke-width="4.08" />
<path d="M1085 437C1098 437 1102 424 1118 421.7" fill="none" stroke="#000" stroke-width="2.45" />
<polyline points="1118,421.7 1438,494.5 1670,545.5 1822,579 2300,688 2484.6,729.3 2862,814.2" fill="none" stroke="#000" stroke-width="2.86" />
<polyline points="1085,438 1321.7,495 1500,533.9 1670,572.3 2560,776.8 2719.4,813.3" fill="none" stroke="#000" stroke-width="4.69" />
<path d="M1113 446C1114 456 1120 460 1130 463" fill="none" stroke="#000" stroke-width="3.06" />
<polyline points="1122,457 1245,487 1669,583 2560,786 2867,853.6" fill="none" stroke="#000" stroke-width="2.24" />
<polyline points="1130,464 1245,493 1669,590 2560,793 2888.9,867" fill="none" stroke="#000" stroke-width="2.24" />
<polyline points="2862,814.2 2870.4,856.1 2888.9,866.2" fill="none" stroke="#000" stroke-width="5.1" />
<path d="M 2719.4 813.3 L 2729.5 805.8 L 2836.8 829.3 L 2860.3 815" fill="none" stroke="#000" stroke-width="4.49" stroke-linejoin="round" stroke-linecap="round"/>
<path d="M 2736.2 809.1 L 2741.2 817.2 L 2745.9 812.1" fill="none" stroke="#000" stroke-width="3.47" stroke-linejoin="round" stroke-linecap="round"/>
<path d="M 2759.7 814.2 L 2764.7 822.2 L 2769.4 817.2" fill="none" stroke="#000" stroke-width="3.47" stroke-linejoin="round" stroke-linecap="round"/>
<path d="M 2786.5 820 L 2791.5 828.1 L 2796.2 823.1" fill="none" stroke="#000" stroke-width="3.47" stroke-linejoin="round" stroke-linecap="round"/>
<path d="M 2813.4 825.9 L 2818.4 834 L 2823.1 828.9" fill="none" stroke="#000" stroke-width="3.47" stroke-linejoin="round" stroke-linecap="round"/>
<path d="M 2838.5 830.9 L 2843.6 839 L 2848.3 834" fill="none" stroke="#000" stroke-width="3.47" stroke-linejoin="round" stroke-linecap="round"/>
<path d="M342 259.7A6.2 3.4 0 1 1 349.1 259.9" fill="none" stroke="#000" stroke-width="3.37" />
<path d="M437.9 281.9A6.2 3.4 0 1 1 445 282.1" fill="none" stroke="#000" stroke-width="3.37" />
<path d="M504.7 297.5A6.2 3.4 0 1 1 511.8 297.7" fill="none" stroke="#000" stroke-width="3.37" />
<path d="M576.5 313.8A6.2 3.4 0 1 1 583.6 314" fill="none" stroke="#000" stroke-width="3.37" />
<path d="M645 330.7A6.2 3.4 0 1 1 652.1 330.9" fill="none" stroke="#000" stroke-width="3.37" />
<path d="M713.6 346.6A6.2 3.4 0 1 1 720.7 346.8" fill="none" stroke="#000" stroke-width="3.37" />
<path d="M784.2 362.2A6.2 3.4 0 1 1 791.3 362.4" fill="none" stroke="#000" stroke-width="3.37" />
<path d="M857.2 373.7A6.2 3.4 0 1 1 864.3 373.9" fill="none" stroke="#000" stroke-width="3.37" />
<path d="M937.2 392A6.2 3.4 0 1 1 944.3 392.2" fill="none" stroke="#000" stroke-width="3.37" />
<path d="M1011.2 408.4A6.2 3.4 0 1 1 1018.3 408.6" fill="none" stroke="#000" stroke-width="3.37" />
<path d="M1166.2 450A6.2 3.4 0 1 1 1173.3 450.2" fill="none" stroke="#000" stroke-width="3.37" />
<path d="M1238.5 466A6.2 3.4 0 1 1 1245.6 466.2" fill="none" stroke="#000" stroke-width="3.37" />
<path d="M1377.9 496A6.2 3.4 0 1 1 1385 496.2" fill="none" stroke="#000" stroke-width="3.37" />
<path d="M1451.2 514.4A6.2 3.4 0 1 1 1458.3 514.6" fill="none" stroke="#000" stroke-width="3.37" />
<path d="M1527.2 532.4A6.2 3.4 0 1 1 1534.3 532.6" fill="none" stroke="#000" stroke-width="3.37" />
<path d="M1602.7 548.3A6.2 3.4 0 1 1 1609.8 548.5" fill="none" stroke="#000" stroke-width="3.37" />
<path d="M1679.1 565.1A6.2 3.4 0 1 1 1686.2 565.3" fill="none" stroke="#000" stroke-width="3.37" />
<path d="M1753.5 581.7A6.2 3.4 0 1 1 1760.6 581.9" fill="none" stroke="#000" stroke-width="3.37" />
<path d="M1834.5 599.4A6.2 3.4 0 1 1 1841.6 599.6" fill="none" stroke="#000" stroke-width="3.37" />
<path d="M1913.5 617A6.2 3.4 0 1 1 1920.6 617.2" fill="none" stroke="#000" stroke-width="3.37" />
<path d="M1991.9 636A6.2 3.4 0 1 1 1999 636.2" fill="none" stroke="#000" stroke-width="3.37" />
<path d="M2072.9 653.7A6.2 3.4 0 1 1 2080 653.9" fill="none" stroke="#000" stroke-width="3.37" />
<path d="M2150.2 672A6.2 3.4 0 1 1 2157.3 672.2" fill="none" stroke="#000" stroke-width="3.37" />
<path d="M2231.9 690.4A6.2 3.4 0 1 1 2239 690.6" fill="none" stroke="#000" stroke-width="3.37" />
<path d="M2309.5 708.7A6.2 3.4 0 1 1 2316.6 708.9" fill="none" stroke="#000" stroke-width="3.37" />
<path d="M2477.9 746A6.2 3.4 0 1 1 2485 746.2" fill="none" stroke="#000" stroke-width="3.37" />
<path d="M2552.9 764.4A6.2 3.4 0 1 1 2560 764.6" fill="none" stroke="#000" stroke-width="3.37" />
<path d="M2628 781.6A6.2 3.4 0 1 1 2635.1 781.8" fill="none" stroke="#000" stroke-width="3.37" />
<ellipse cx="376" cy="264.4" rx="7.4" ry="5" fill="#000" stroke="#000" stroke-width="0" />
<path d="M1307.9 483.2A6.2 3.4 0 1 1 1315 483.4" fill="none" stroke="#000" stroke-width="3.37" />
<path d="M2393.9 727A6.2 3.4 0 1 1 2401 727.2" fill="none" stroke="#000" stroke-width="3.37" />
<ellipse cx="2709" cy="795.7" rx="7.4" ry="5" fill="#000" stroke="#000" stroke-width="0" />
<path d="M 1583.6 388.7 C 1583.9 382 1594 378.7 1607.4 378.7 L 1689.6 397.1 C 1699.7 398.8 1704.7 403.8 1704.4 409.7 C 1703.9 415.6 1693 417.2 1677.9 417.2 C 1667.8 418.1 1661.1 422.3 1651 422.3 L 1640.9 422.3 C 1634.2 424 1630.9 430.7 1627.5 437.4 L 1624.2 440.7 L 1600.7 434.9 L 1599.8 424 C 1600.7 418.9 1607.4 417.2 1607.4 412.2 C 1604 403.8 1599 398.8 1587.2 397.1 C 1584.7 395.4 1583.6 392.1 1583.6 388.7 Z" fill="#fff" stroke="#000" stroke-width="3.06" stroke-linejoin="round" stroke-linecap="round"/>
<path d="M 1583.9 392.1 L 1584.7 402.1 C 1587.2 408.9 1597.3 410.5 1604.9 413.9" fill="none" stroke="#000" stroke-width="2.86" stroke-linejoin="round" stroke-linecap="round"/>
<path d="M 1596.5 434.9 C 1594.8 439.1 1596.5 441.6 1600.7 442.4 L 1622.5 447.4 C 1629.2 446.6 1634.2 437.4 1642.6 429 L 1657.7 430.7 L 1672.8 425.6 C 1679.5 429 1684.6 429.8 1693 429 C 1699.7 426.5 1703.9 423.1 1704.4 409.7" fill="none" stroke="#000" stroke-width="3.06" stroke-linejoin="round" stroke-linecap="round"/>
<path d="M 1624.2 440.7 L 1623.3 447.4" fill="none" stroke="#000" stroke-width="2.55" stroke-linejoin="round" stroke-linecap="round"/>
<path d="M 1614.9 413.6 L 1638.4 418.1 M 1607.4 427.7 L 1627.5 432" fill="none" stroke="#000" stroke-width="2.24" stroke-linejoin="round" stroke-linecap="round"/>
<path d="M1598.9 392.6A6.2 3.4 0 1 1 1606 392.8" fill="none" stroke="#000" stroke-width="3.37" />
<path d="M1680.7 409.9A6.2 3.4 0 1 1 1687.8 410.1" fill="none" stroke="#000" stroke-width="3.37" />
<path d="M 1572.5 477.7 L 1602.3 465.1 L 1609.1 464.7 L 1718.1 489.4 L 1718.1 491.1 L 1687.9 502.8 L 1681.2 502.8 L 1573 478.5 Z" fill="#fff" stroke="#000" stroke-width="3.06" stroke-linejoin="round" stroke-linecap="round"/>
<path d="M1603.6 477A6.2 3.4 0 1 1 1610.7 477.2" fill="none" stroke="#000" stroke-width="3.37" />
<path d="M1680.7 494.4A6.2 3.4 0 1 1 1687.8 494.6" fill="none" stroke="#000" stroke-width="3.37" />
<path d="M 2339.4 587.4 C 2339.4 590.7 2341.1 593.3 2344.5 594.1 L 2451 616.7 C 2456 617.6 2459.4 616.7 2462.8 615.1 L 2469.5 611.7 L 2477.9 615.6 C 2481.2 616.2 2484.6 615.9 2487.9 614.2 L 2501.3 602.5 L 2500.5 585.7" fill="#fff" stroke="#000" stroke-width="3.06" stroke-linejoin="round" stroke-linecap="round"/>
<path d="M 2338.9 582.3 C 2339.4 579 2341.9 577.3 2345.3 575.6 L 2378.9 557.2 C 2387.2 553.8 2404 553.8 2412.4 560.5 L 2415.4 563.9 L 2415.4 572.3 L 2409.9 576.5 L 2442.6 582.7 C 2451 582.3 2457.7 574 2467.8 571.4 C 2477.9 568.9 2489.6 568.9 2496.3 574 C 2501.3 578.2 2501.3 582.3 2500.5 585.7 L 2457.7 610.9 C 2454.4 611.7 2451 611.7 2447.7 610.9 L 2341.9 587.4 C 2339.4 586.5 2338.6 584.9 2338.9 582.3 Z" fill="#fff" stroke="#000" stroke-width="3.06" stroke-linejoin="round" stroke-linecap="round"/>
<path d="M 2469.5 612.6 L 2484.6 601.6 L 2484.6 614.2" fill="none" stroke="#000" stroke-width="3.06" stroke-linejoin="round" stroke-linecap="round"/>
<path d="M 2409.1 576.5 L 2415.8 570.6" fill="none" stroke="#000" stroke-width="5.1" stroke-linejoin="round" stroke-linecap="round"/>
<path d="M2392.3 568.9A6.2 3.4 0 1 1 2399.4 569.1" fill="none" stroke="#000" stroke-width="3.37" />
<path d="M2403.6 594.6A6.2 3.4 0 1 1 2410.7 594.8" fill="none" stroke="#000" stroke-width="3.37" />
<path d="M2476.2 584.5A6.2 3.4 0 1 1 2483.3 584.7" fill="none" stroke="#000" stroke-width="3.37" />
<path d="M 2368.8 657.9 L 2391.4 643.1 L 2399 642.4 L 2511.4 667.6 L 2511.4 670.4 L 2486.2 683.9 L 2481.2 684.7 L 2369.6 660.4 Z" fill="#fff" stroke="#000" stroke-width="3.06" stroke-linejoin="round" stroke-linecap="round"/>
<path d="M2395.5 657.5A6.2 3.4 0 1 1 2402.6 657.7" fill="none" stroke="#000" stroke-width="3.37" />
<path d="M2478.2 675.1A6.2 3.4 0 1 1 2485.3 675.3" fill="none" stroke="#000" stroke-width="3.37" />
<line x1="2396" y1="532" x2="2396" y2="560" stroke="#000" stroke-width="2.65" />
<line x1="2396" y1="606" x2="2396" y2="641" stroke="#000" stroke-width="2.65" />
<path d="M 303.8 348.5 L 310.5 344.3 L 330.7 348.5 L 324 355.2 L 308.9 355.2 Z" fill="#000" stroke="#000" stroke-width="3.06" stroke-linejoin="round" stroke-linecap="round"/>
<path d="M 312.2 348.5 L 324 350.2 L 321.4 352.7 L 312.2 351.8 Z" fill="#fff" stroke="#000" stroke-width="0" stroke-linejoin="round" stroke-linecap="round"/>
<path d="M 347.4 352.7 C 337.4 347.7 324 351 313.9 359.4 C 297.1 374.5 271.9 393 241.7 400.5 L 243.4 403.9 C 255.2 408.1 288.7 405.5 318.9 391.3 C 330.7 384.6 340.7 376.2 350.8 369.5 Z" fill="#fff" stroke="#000" stroke-width="3.06" stroke-linejoin="round" stroke-linecap="round"/>
<path d="M 310.5 378.7 L 347.4 360.2 M 311.4 385.4 L 350.8 366.1" fill="none" stroke="#000" stroke-width="4.08" stroke-linejoin="round" stroke-linecap="round"/>
<path d="M 318.9 377.9 L 339.1 366.9" fill="none" stroke="#000" stroke-width="2.04" stroke-linejoin="round" stroke-linecap="round"/>
<path d="M 350 360.2 L 387.7 367.8 L 389.4 370.3 L 386 377.9 L 382.7 379.2 L 354.2 369.5 Z" fill="#fff" stroke="#000" stroke-width="3.06" stroke-linejoin="round" stroke-linecap="round"/>
<path d="M 359.2 354.4 L 364.2 358.6 L 376 361.1" fill="none" stroke="#000" stroke-width="4.08" stroke-linejoin="round" stroke-linecap="round"/>
<ellipse cx="383.5" cy="373.2" rx="3.7" ry="4.7" fill="#fff" stroke="#000" stroke-width="2.65" />
<path d="M 314.7 334.2 C 314.7 329.2 318.9 327.5 324 328.4 L 372.6 339.3 L 372.6 350.2 L 318.9 339.3 C 315.6 338.4 314.7 336.7 314.7 334.2 Z" fill="#fff" stroke="#000" stroke-width="3.26" stroke-linejoin="round" stroke-linecap="round"/>
<path d="M 325.6 330 L 355 338.4 M 361.7 339.3 L 372.6 341.8" fill="none" stroke="#000" stroke-width="2.24" stroke-linejoin="round" stroke-linecap="round"/>
<path d="M 372.6 339.3 L 374.3 352.7 L 372.6 357.7" fill="none" stroke="#000" stroke-width="4.59" stroke-linejoin="round" stroke-linecap="round"/>
<path d="M 374.3 351.8 C 384.4 349.3 391.1 342.6 391.9 329.2" fill="none" stroke="#000" stroke-width="3.06" stroke-linejoin="round" stroke-linecap="round"/>
<ellipse cx="343.3" cy="320.5" rx="16.3" ry="8.7" fill="#fff" stroke="#000" stroke-width="3.26" />
<ellipse cx="374.6" cy="327.5" rx="16.8" ry="8.7" fill="#fff" stroke="#000" stroke-width="3.47" />
<path d="M339.9 323.8A5.5 3.4 0 1 1 346.2 324" fill="none" stroke="#000" stroke-width="3.37" />
<path d="M371.2 330.5A5.5 3.4 0 1 1 377.5 330.7" fill="none" stroke="#000" stroke-width="3.37" />
<path d="M 1236.4 570.5 L 1244 566.3 L 1267.4 569.6 L 1257.4 574.7 L 1244 578 L 1237.2 576.3 Z" fill="#fff" stroke="#000" stroke-width="3.26" stroke-linejoin="round" stroke-linecap="round"/>
<path d="M 1285.9 575.5 C 1280.9 570.5 1270.8 569.6 1260.7 573.8 L 1220.5 588.9 C 1210.4 592.3 1200.3 600.7 1188.6 611.6 L 1180.2 616.3 L 1185.2 619.5 C 1205.4 620 1222.1 617.4 1233.9 613.8 L 1285.9 593.6 Z" fill="#fff" stroke="#000" stroke-width="3.26" stroke-linejoin="round" stroke-linecap="round"/>
<path d="M 1230.5 602 L 1284.2 580.2 M 1231.4 608.2 L 1285.1 585.9 M 1230.2 601.5 L 1231.4 608.7" fill="none" stroke="#000" stroke-width="3.67" stroke-linejoin="round" stroke-linecap="round"/>
<path d="M 1236.4 593.1 L 1261.6 583.9" fill="none" stroke="#000" stroke-width="2.45" stroke-linejoin="round" stroke-linecap="round"/>
<path d="M 1270 580.2 L 1280 576.3" fill="none" stroke="#000" stroke-width="2.45" stroke-linejoin="round" stroke-linecap="round"/>
<path d="M 1285.1 585.6 L 1316.1 593.1 L 1301 599 L 1285.9 594 Z" fill="#000" stroke="#000" stroke-width="3.06" stroke-linejoin="round" stroke-linecap="round"/>
<path d="M 1358.9 591.4 C 1356.4 583.9 1344.6 580.5 1332.9 585.6 L 1289.3 604.9 C 1277.5 610.7 1267.4 619.1 1255.7 630 L 1244.8 635.1 L 1250.7 637.9 C 1270.8 638.9 1289.3 636.7 1302.7 633.4 L 1358.1 609.9 Z" fill="#fff" stroke="#000" stroke-width="3.26" stroke-linejoin="round" stroke-linecap="round"/>
<path d="M 1301 615.8 L 1356.4 594 M 1301.8 623.3 L 1358.1 600.7 M 1300.7 615.4 L 1301.8 623.8" fill="none" stroke="#000" stroke-width="3.67" stroke-linejoin="round" stroke-linecap="round"/>
<path d="M 1312.8 608.2 L 1343 596.5" fill="none" stroke="#000" stroke-width="2.45" stroke-linejoin="round" stroke-linecap="round"/>
<path d="M 1356.4 595.6 L 1395.8 599 L 1396.6 604 L 1388.3 612.8 L 1358.1 609.1 Z" fill="#000" stroke="#000" stroke-width="3.06" stroke-linejoin="round" stroke-linecap="round"/>
<path d="M 1359.7 595.3 L 1391.6 600.7 L 1384.9 602.7 L 1358.1 599 Z" fill="#fff" stroke="#000" stroke-width="0" stroke-linejoin="round" stroke-linecap="round"/>
<ellipse cx="1390.8" cy="606.7" rx="4" ry="5" fill="#fff" stroke="#000" stroke-width="2.45" />
<path d="M 1278.4 567.1 C 1277.5 560.4 1279.2 557.9 1284.2 557 L 1379 578.9 L 1378.5 594.3 L 1358.9 591.4 C 1348 583.9 1334.6 583.9 1326.2 587.2 C 1317.8 587.2 1311.1 584.7 1308.6 578 C 1301 573.8 1289.3 573.8 1278.4 567.1 Z" fill="#fff" stroke="#000" stroke-width="3.26" stroke-linejoin="round" stroke-linecap="round"/>
<path d="M 1280 556.2 L 1381.5 578.9" fill="none" stroke="#000" stroke-width="5.61" stroke-linejoin="round" stroke-linecap="round"/>
<path d="M 1348 568 L 1366.4 567.1 L 1384.9 573.8 L 1382.4 579.7 Z" fill="#000" stroke="#000" stroke-width="2.04" stroke-linejoin="round" stroke-linecap="round"/>
<path d="M 1379.5 578.9 L 1379.5 594" fill="none" stroke="#000" stroke-width="6.12" stroke-linejoin="round" stroke-linecap="round"/>
<path d="M 1291.8 576.3 L 1307.7 580.2" fill="none" stroke="#000" stroke-width="2.45" stroke-linejoin="round" stroke-linecap="round"/>
<path d="M 1384.9 591.9 C 1395 587.2 1402.5 578.9 1403.4 563.8" fill="none" stroke="#000" stroke-width="3.06" stroke-linejoin="round" stroke-linecap="round"/>
<path d="M 1290.6 546.1 L 1290.1 555.4 L 1331.2 562.9 L 1332.6 548.7" fill="#fff" stroke="#000" stroke-width="3.26" stroke-linejoin="round" stroke-linecap="round"/>
<path d="M 1319.5 558.7 L 1330.4 553.7 L 1330.9 562.1 Z" fill="none" stroke="#000" stroke-width="2.45" stroke-linejoin="round" stroke-linecap="round"/>
<ellipse cx="1311.9" cy="546.1" rx="21" ry="10.7" fill="#fff" stroke="#000" stroke-width="3.67" />
<ellipse cx="1383.2" cy="562.4" rx="21" ry="10.7" fill="#fff" stroke="#000" stroke-width="3.67" />
<path d="M1306.5 551.4A7.5 4.5 0 1 1 1315 551.6" fill="none" stroke="#000" stroke-width="3.06" />
<path d="M1378.6 567A7.5 4.5 0 1 1 1387.2 567.2" fill="none" stroke="#000" stroke-width="3.06" />
<line x1="1310.5" y1="495" x2="1310.5" y2="540" stroke="#000" stroke-width="2.65" />
<path d="M 2313.1 818.9 L 2320.6 813.5 L 2344.1 817.5 L 2337.4 823.9 L 2324 826.4 L 2315.6 823.9 Z" fill="#000" stroke="#000" stroke-width="3.26" stroke-linejoin="round" stroke-linecap="round"/>
<path d="M 2321.4 816.3 L 2339.1 818.9 L 2334.9 821.9 L 2319.8 818.9 Z" fill="#fff" stroke="#000" stroke-width="0" stroke-linejoin="round" stroke-linecap="round"/>
<path d="M 2366.7 815.5 C 2362.6 811.3 2355.8 810.5 2350.8 813 L 2330.7 827.2 C 2317.2 834 2305.5 842.3 2293.8 855.8 L 2270.3 879.3 L 2273.6 882.6 C 2297.1 880.9 2317.2 875.9 2330.7 869.2 C 2347.4 860.8 2360.9 850.7 2376 840.7 Z" fill="#fff" stroke="#000" stroke-width="3.26" stroke-linejoin="round" stroke-linecap="round"/>
<path d="M 2322.3 849.1 L 2366.7 823.1 M 2321.9 856.6 L 2369.3 830.6 M 2321.4 849.1 L 2321.9 857.1" fill="none" stroke="#000" stroke-width="3.67" stroke-linejoin="round" stroke-linecap="round"/>
<path d="M 2329 838.2 L 2362.6 818.9" fill="none" stroke="#000" stroke-width="2.45" stroke-linejoin="round" stroke-linecap="round"/>
<path d="M 2370.1 834 L 2411.2 844.9 L 2401.1 850.7 L 2376 840.7 Z" fill="#000" stroke="#000" stroke-width="3.06" stroke-linejoin="round" stroke-linecap="round"/>
<path d="M 2451.5 839 C 2448.1 830.6 2436.4 827.2 2428 833.1 L 2397.8 852.4 C 2386 859.1 2377.7 867.5 2369.3 880.9 L 2350.8 898.6 L 2355 901.1 C 2377.7 899.4 2397.8 891 2411.2 884.3 L 2454.8 859.1 Z" fill="#fff" stroke="#000" stroke-width="3.26" stroke-linejoin="round" stroke-linecap="round"/>
<path d="M 2407.9 869.2 L 2451.5 845.7 M 2406.5 876.2 L 2453.2 852.4 M 2407.5 868.9 L 2406.5 876.7" fill="none" stroke="#000" stroke-width="3.67" stroke-linejoin="round" stroke-linecap="round"/>
<path d="M 2412 860.8 L 2442.2 842.3" fill="none" stroke="#000" stroke-width="2.45" stroke-linejoin="round" stroke-linecap="round"/>
<path d="M 2454.8 849.1 L 2498.5 855.8 L 2499.3 861.1 L 2493.4 867.2 L 2456.5 857.8 Z" fill="#000" stroke="#000" stroke-width="3.06" stroke-linejoin="round" stroke-linecap="round"/>
<path d="M 2456.5 849.9 L 2495.1 856.6 L 2488.4 859.5 L 2455.7 852.8 Z" fill="#fff" stroke="#000" stroke-width="0" stroke-linejoin="round" stroke-linecap="round"/>
<ellipse cx="2494.6" cy="861.8" rx="3.7" ry="4.7" fill="#fff" stroke="#000" stroke-width="2.45" />
<path d="M 2365.1 812.1 C 2365.1 808 2367.6 806.3 2371.8 806.3 L 2488.4 834 L 2487 848.2 L 2451.5 839 C 2446.4 830.6 2433 828.9 2421.3 836.5 L 2398.6 831.4 L 2397.8 827.2 L 2369.3 819.7 C 2365.9 818 2365.1 815.5 2365.1 812.1 Z" fill="#fff" stroke="#000" stroke-width="3.26" stroke-linejoin="round" stroke-linecap="round"/>
<path d="M 2369.3 804.6 L 2489.2 833.1" fill="none" stroke="#000" stroke-width="5.61" stroke-linejoin="round" stroke-linecap="round"/>
<path d="M 2488.4 834 L 2487 847.4" fill="none" stroke="#000" stroke-width="6.12" stroke-linejoin="round" stroke-linecap="round"/>
<path d="M 2370.1 823.9 L 2397.8 831.4 L 2397.8 836.5 M 2370.1 828.9 L 2391.1 834.3" fill="none" stroke="#000" stroke-width="2.65" stroke-linejoin="round" stroke-linecap="round"/>
<path d="M 2487.6 847.7 C 2500.1 845.7 2511 839 2512.7 822.2" fill="none" stroke="#000" stroke-width="3.06" stroke-linejoin="round" stroke-linecap="round"/>
<path d="M 2489.2 836.5 L 2506.8 831.4" fill="none" stroke="#000" stroke-width="2.45" stroke-linejoin="round" stroke-linecap="round"/>
<path d="M 2372.6 798.7 L 2372.6 807.1 L 2417.9 814.7 L 2418.3 800.4" fill="#fff" stroke="#000" stroke-width="3.26" stroke-linejoin="round" stroke-linecap="round"/>
<path d="M 2404.5 810.5 L 2416.2 804.6 L 2416.6 813.8 Z" fill="none" stroke="#000" stroke-width="2.45" stroke-linejoin="round" stroke-linecap="round"/>
<path d="M 2456.5 823.1 L 2468.3 818.9" fill="none" stroke="#000" stroke-width="4.08" stroke-linejoin="round" stroke-linecap="round"/>
<ellipse cx="2395.3" cy="798.7" rx="22.7" ry="11.4" fill="#fff" stroke="#000" stroke-width="3.67" />
<ellipse cx="2489.2" cy="821.4" rx="23.5" ry="11.7" fill="#fff" stroke="#000" stroke-width="3.67" />
<path d="M2390.3 804.5A8 4.8 0 1 1 2399.5 804.8" fill="none" stroke="#000" stroke-width="3.06" />
<path d="M2484.3 826A8 4.8 0 1 1 2493.5 826.3" fill="none" stroke="#000" stroke-width="3.06" />
<line x1="2396" y1="741" x2="2396.5" y2="790" stroke="#000" stroke-width="2.65" />
<line x1="210" y1="680" x2="908.5" y2="872.4" stroke="#000" stroke-width="2.65" />
<polyline points="210,680 151.7,708.5 163,713 221.5,701.8" fill="none" stroke="#000" stroke-width="3.06" stroke-linejoin="round"/>
<line x1="171.4" y1="711.4" x2="163.4" y2="707.9" stroke="#000" stroke-width="2.75" />
<line x1="179.7" y1="709.8" x2="171.7" y2="706.3" stroke="#000" stroke-width="2.75" />
<line x1="188.1" y1="708.2" x2="180.1" y2="704.7" stroke="#000" stroke-width="2.75" />
<line x1="196.4" y1="706.6" x2="188.4" y2="703.1" stroke="#000" stroke-width="2.75" />
<line x1="204.8" y1="705" x2="196.8" y2="701.5" stroke="#000" stroke-width="2.75" />
<line x1="213.1" y1="703.4" x2="205.1" y2="699.9" stroke="#000" stroke-width="2.75" />
<line x1="240" y1="689.8" x2="221.5" y2="701.8" stroke="#000" stroke-width="2.75" />
<polyline points="221.5,701.8 220.5,730.3 236,735.3 298.2,723" fill="none" stroke="#000" stroke-width="3.47" stroke-linejoin="round"/>
<line x1="242.9" y1="733.9" x2="232.9" y2="730.1" stroke="#000" stroke-width="2.96" />
<line x1="249.8" y1="732.6" x2="239.8" y2="728.8" stroke="#000" stroke-width="2.96" />
<line x1="256.7" y1="731.2" x2="246.7" y2="727.4" stroke="#000" stroke-width="2.96" />
<line x1="263.6" y1="729.8" x2="253.6" y2="726" stroke="#000" stroke-width="2.96" />
<line x1="270.6" y1="728.5" x2="260.6" y2="724.7" stroke="#000" stroke-width="2.96" />
<line x1="277.5" y1="727.1" x2="267.5" y2="723.3" stroke="#000" stroke-width="2.96" />
<line x1="284.4" y1="725.7" x2="274.4" y2="721.9" stroke="#000" stroke-width="2.96" />
<line x1="291.3" y1="724.4" x2="281.3" y2="720.6" stroke="#000" stroke-width="2.96" />
<line x1="221.3" y1="706.5" x2="230.3" y2="707.8" stroke="#000" stroke-width="2.75" />
<line x1="221.2" y1="711.3" x2="230.2" y2="712.5" stroke="#000" stroke-width="2.75" />
<line x1="221" y1="716" x2="230" y2="717.2" stroke="#000" stroke-width="2.75" />
<line x1="220.8" y1="720.8" x2="229.8" y2="722" stroke="#000" stroke-width="2.75" />
<line x1="220.7" y1="725.5" x2="229.7" y2="726.8" stroke="#000" stroke-width="2.75" />
<path d="M243.3 702.7A4.4 3 0 1 1 248.3 702.8" fill="none" stroke="#000" stroke-width="3.06" />
<ellipse cx="296.5" cy="712.8" rx="5" ry="3.6" fill="#000" stroke="#000" stroke-width="0" />
<line x1="316.7" y1="711" x2="298.2" y2="723" stroke="#000" stroke-width="2.75" />
<polyline points="298.2,723 297.2,751.5 312.7,756.5 371.5,743.2" fill="none" stroke="#000" stroke-width="3.47" stroke-linejoin="round"/>
<line x1="319.2" y1="755" x2="309.2" y2="751.2" stroke="#000" stroke-width="2.96" />
<line x1="325.8" y1="753.5" x2="315.8" y2="749.7" stroke="#000" stroke-width="2.96" />
<line x1="332.3" y1="752.1" x2="322.3" y2="748.3" stroke="#000" stroke-width="2.96" />
<line x1="338.8" y1="750.6" x2="328.8" y2="746.8" stroke="#000" stroke-width="2.96" />
<line x1="345.4" y1="749.1" x2="335.4" y2="745.3" stroke="#000" stroke-width="2.96" />
<line x1="351.9" y1="747.6" x2="341.9" y2="743.8" stroke="#000" stroke-width="2.96" />
<line x1="358.4" y1="746.2" x2="348.4" y2="742.4" stroke="#000" stroke-width="2.96" />
<line x1="365" y1="744.7" x2="355" y2="740.9" stroke="#000" stroke-width="2.96" />
<line x1="298" y1="727.8" x2="307" y2="729" stroke="#000" stroke-width="2.75" />
<line x1="297.9" y1="732.5" x2="306.9" y2="733.7" stroke="#000" stroke-width="2.75" />
<line x1="297.7" y1="737.2" x2="306.7" y2="738.5" stroke="#000" stroke-width="2.75" />
<line x1="297.5" y1="742" x2="306.5" y2="743.2" stroke="#000" stroke-width="2.75" />
<line x1="297.4" y1="746.8" x2="306.4" y2="748" stroke="#000" stroke-width="2.75" />
<ellipse cx="322.7" cy="721.5" rx="5" ry="3.6" fill="#000" stroke="#000" stroke-width="0" />
<path d="M370.5 736.4A4.4 3 0 1 1 375.5 736.5" fill="none" stroke="#000" stroke-width="3.06" />
<line x1="390" y1="731.2" x2="371.5" y2="743.2" stroke="#000" stroke-width="2.75" />
<polyline points="371.5,743.2 370.5,771.7 386,776.7 446.5,764" fill="none" stroke="#000" stroke-width="3.47" stroke-linejoin="round"/>
<line x1="392.7" y1="775.3" x2="382.7" y2="771.5" stroke="#000" stroke-width="2.96" />
<line x1="399.4" y1="773.9" x2="389.4" y2="770.1" stroke="#000" stroke-width="2.96" />
<line x1="406.2" y1="772.5" x2="396.2" y2="768.7" stroke="#000" stroke-width="2.96" />
<line x1="412.9" y1="771.1" x2="402.9" y2="767.3" stroke="#000" stroke-width="2.96" />
<line x1="419.6" y1="769.6" x2="409.6" y2="765.8" stroke="#000" stroke-width="2.96" />
<line x1="426.3" y1="768.2" x2="416.3" y2="764.4" stroke="#000" stroke-width="2.96" />
<line x1="433.1" y1="766.8" x2="423.1" y2="763" stroke="#000" stroke-width="2.96" />
<line x1="439.8" y1="765.4" x2="429.8" y2="761.6" stroke="#000" stroke-width="2.96" />
<line x1="371.3" y1="748" x2="380.3" y2="749.2" stroke="#000" stroke-width="2.75" />
<line x1="371.2" y1="752.7" x2="380.2" y2="753.9" stroke="#000" stroke-width="2.75" />
<line x1="371" y1="757.5" x2="380" y2="758.7" stroke="#000" stroke-width="2.75" />
<line x1="370.8" y1="762.2" x2="379.8" y2="763.4" stroke="#000" stroke-width="2.75" />
<line x1="370.7" y1="767" x2="379.7" y2="768.2" stroke="#000" stroke-width="2.75" />
<path d="M393.3 744.1A4.4 3 0 1 1 398.3 744.2" fill="none" stroke="#000" stroke-width="3.06" />
<ellipse cx="446.5" cy="754.2" rx="5" ry="3.6" fill="#000" stroke="#000" stroke-width="0" />
<line x1="465" y1="752" x2="446.5" y2="764" stroke="#000" stroke-width="2.75" />
<polyline points="446.5,764 445.5,792.5 461,797.5 519.8,784.3" fill="none" stroke="#000" stroke-width="3.47" stroke-linejoin="round"/>
<line x1="467.5" y1="796" x2="457.5" y2="792.2" stroke="#000" stroke-width="2.96" />
<line x1="474.1" y1="794.6" x2="464.1" y2="790.8" stroke="#000" stroke-width="2.96" />
<line x1="480.6" y1="793.1" x2="470.6" y2="789.3" stroke="#000" stroke-width="2.96" />
<line x1="487.1" y1="791.6" x2="477.1" y2="787.8" stroke="#000" stroke-width="2.96" />
<line x1="493.7" y1="790.2" x2="483.7" y2="786.4" stroke="#000" stroke-width="2.96" />
<line x1="500.2" y1="788.7" x2="490.2" y2="784.9" stroke="#000" stroke-width="2.96" />
<line x1="506.7" y1="787.2" x2="496.7" y2="783.4" stroke="#000" stroke-width="2.96" />
<line x1="513.3" y1="785.8" x2="503.3" y2="782" stroke="#000" stroke-width="2.96" />
<line x1="446.3" y1="768.8" x2="455.3" y2="770" stroke="#000" stroke-width="2.75" />
<line x1="446.2" y1="773.5" x2="455.2" y2="774.7" stroke="#000" stroke-width="2.75" />
<line x1="446" y1="778.2" x2="455" y2="779.5" stroke="#000" stroke-width="2.75" />
<line x1="445.8" y1="783" x2="454.8" y2="784.2" stroke="#000" stroke-width="2.75" />
<line x1="445.7" y1="787.8" x2="454.7" y2="789" stroke="#000" stroke-width="2.75" />
<ellipse cx="471" cy="762.5" rx="5" ry="3.6" fill="#000" stroke="#000" stroke-width="0" />
<path d="M518.8 777.4A4.4 3 0 1 1 523.8 777.5" fill="none" stroke="#000" stroke-width="3.06" />
<line x1="538.3" y1="772.3" x2="519.8" y2="784.3" stroke="#000" stroke-width="2.75" />
<polyline points="519.8,784.3 518.8,812.8 534.3,817.8 596.5,805.2" fill="none" stroke="#000" stroke-width="3.47" stroke-linejoin="round"/>
<line x1="541.2" y1="816.4" x2="531.2" y2="812.6" stroke="#000" stroke-width="2.96" />
<line x1="548.1" y1="815" x2="538.1" y2="811.2" stroke="#000" stroke-width="2.96" />
<line x1="555" y1="813.6" x2="545" y2="809.8" stroke="#000" stroke-width="2.96" />
<line x1="561.9" y1="812.2" x2="551.9" y2="808.4" stroke="#000" stroke-width="2.96" />
<line x1="568.9" y1="810.8" x2="558.9" y2="807" stroke="#000" stroke-width="2.96" />
<line x1="575.8" y1="809.4" x2="565.8" y2="805.6" stroke="#000" stroke-width="2.96" />
<line x1="582.7" y1="808" x2="572.7" y2="804.2" stroke="#000" stroke-width="2.96" />
<line x1="589.6" y1="806.6" x2="579.6" y2="802.8" stroke="#000" stroke-width="2.96" />
<line x1="519.6" y1="789" x2="528.6" y2="790.2" stroke="#000" stroke-width="2.75" />
<line x1="519.5" y1="793.8" x2="528.5" y2="795" stroke="#000" stroke-width="2.75" />
<line x1="519.3" y1="798.5" x2="528.3" y2="799.8" stroke="#000" stroke-width="2.75" />
<line x1="519.1" y1="803.3" x2="528.1" y2="804.5" stroke="#000" stroke-width="2.75" />
<line x1="519" y1="808" x2="528" y2="809.2" stroke="#000" stroke-width="2.75" />
<path d="M541.6 785.2A4.4 3 0 1 1 546.6 785.3" fill="none" stroke="#000" stroke-width="3.06" />
<ellipse cx="594.8" cy="795.3" rx="5" ry="3.6" fill="#000" stroke="#000" stroke-width="0" />
<line x1="615" y1="793.2" x2="596.5" y2="805.2" stroke="#000" stroke-width="2.75" />
<polyline points="596.5,805.2 595.5,833.7 611,838.7 673.5,827" fill="none" stroke="#000" stroke-width="3.47" stroke-linejoin="round"/>
<line x1="617.9" y1="837.4" x2="607.9" y2="833.6" stroke="#000" stroke-width="2.96" />
<line x1="624.9" y1="836.1" x2="614.9" y2="832.3" stroke="#000" stroke-width="2.96" />
<line x1="631.8" y1="834.8" x2="621.8" y2="831" stroke="#000" stroke-width="2.96" />
<line x1="638.8" y1="833.5" x2="628.8" y2="829.7" stroke="#000" stroke-width="2.96" />
<line x1="645.7" y1="832.2" x2="635.7" y2="828.4" stroke="#000" stroke-width="2.96" />
<line x1="652.7" y1="830.9" x2="642.7" y2="827.1" stroke="#000" stroke-width="2.96" />
<line x1="659.6" y1="829.6" x2="649.6" y2="825.8" stroke="#000" stroke-width="2.96" />
<line x1="666.6" y1="828.3" x2="656.6" y2="824.5" stroke="#000" stroke-width="2.96" />
<line x1="596.3" y1="810" x2="605.3" y2="811.2" stroke="#000" stroke-width="2.75" />
<line x1="596.2" y1="814.7" x2="605.2" y2="815.9" stroke="#000" stroke-width="2.75" />
<line x1="596" y1="819.5" x2="605" y2="820.7" stroke="#000" stroke-width="2.75" />
<line x1="595.8" y1="824.2" x2="604.8" y2="825.4" stroke="#000" stroke-width="2.75" />
<line x1="595.7" y1="829" x2="604.7" y2="830.2" stroke="#000" stroke-width="2.75" />
<ellipse cx="621" cy="803.7" rx="5" ry="3.6" fill="#000" stroke="#000" stroke-width="0" />
<path d="M668.8 818.6A4.4 3 0 1 1 673.8 818.7" fill="none" stroke="#000" stroke-width="3.06" />
<line x1="692" y1="815" x2="673.5" y2="827" stroke="#000" stroke-width="2.75" />
<polyline points="673.5,827 672.5,855.5 688,860.5 752.4,849.5" fill="none" stroke="#000" stroke-width="3.47" stroke-linejoin="round"/>
<line x1="695.2" y1="859.3" x2="685.2" y2="855.5" stroke="#000" stroke-width="2.96" />
<line x1="702.3" y1="858.1" x2="692.3" y2="854.3" stroke="#000" stroke-width="2.96" />
<line x1="709.5" y1="856.8" x2="699.5" y2="853" stroke="#000" stroke-width="2.96" />
<line x1="716.6" y1="855.6" x2="706.6" y2="851.8" stroke="#000" stroke-width="2.96" />
<line x1="723.8" y1="854.4" x2="713.8" y2="850.6" stroke="#000" stroke-width="2.96" />
<line x1="730.9" y1="853.2" x2="720.9" y2="849.4" stroke="#000" stroke-width="2.96" />
<line x1="738.1" y1="851.9" x2="728.1" y2="848.1" stroke="#000" stroke-width="2.96" />
<line x1="745.2" y1="850.7" x2="735.2" y2="846.9" stroke="#000" stroke-width="2.96" />
<line x1="673.3" y1="831.8" x2="682.3" y2="833" stroke="#000" stroke-width="2.75" />
<line x1="673.2" y1="836.5" x2="682.2" y2="837.7" stroke="#000" stroke-width="2.75" />
<line x1="673" y1="841.2" x2="682" y2="842.5" stroke="#000" stroke-width="2.75" />
<line x1="672.8" y1="846" x2="681.8" y2="847.2" stroke="#000" stroke-width="2.75" />
<line x1="672.7" y1="850.8" x2="681.7" y2="852" stroke="#000" stroke-width="2.75" />
<path d="M695.3 827.9A4.4 3 0 1 1 700.3 828" fill="none" stroke="#000" stroke-width="3.06" />
<ellipse cx="748.5" cy="838" rx="5" ry="3.6" fill="#000" stroke="#000" stroke-width="0" />
<line x1="770.9" y1="837.5" x2="752.4" y2="849.5" stroke="#000" stroke-width="2.75" />
<polyline points="752.4,849.5 751.4,878 766.9,883 830.4,870.5" fill="none" stroke="#000" stroke-width="3.47" stroke-linejoin="round"/>
<line x1="774" y1="881.6" x2="764" y2="877.8" stroke="#000" stroke-width="2.96" />
<line x1="781" y1="880.2" x2="771" y2="876.4" stroke="#000" stroke-width="2.96" />
<line x1="788.1" y1="878.8" x2="778.1" y2="875" stroke="#000" stroke-width="2.96" />
<line x1="795.1" y1="877.4" x2="785.1" y2="873.6" stroke="#000" stroke-width="2.96" />
<line x1="802.2" y1="876.1" x2="792.2" y2="872.3" stroke="#000" stroke-width="2.96" />
<line x1="809.2" y1="874.7" x2="799.2" y2="870.9" stroke="#000" stroke-width="2.96" />
<line x1="816.3" y1="873.3" x2="806.3" y2="869.5" stroke="#000" stroke-width="2.96" />
<line x1="823.3" y1="871.9" x2="813.3" y2="868.1" stroke="#000" stroke-width="2.96" />
<line x1="752.2" y1="854.2" x2="761.2" y2="855.5" stroke="#000" stroke-width="2.75" />
<line x1="752.1" y1="859" x2="761.1" y2="860.2" stroke="#000" stroke-width="2.75" />
<line x1="751.9" y1="863.8" x2="760.9" y2="865" stroke="#000" stroke-width="2.75" />
<line x1="751.7" y1="868.5" x2="760.7" y2="869.7" stroke="#000" stroke-width="2.75" />
<line x1="751.6" y1="873.2" x2="760.6" y2="874.5" stroke="#000" stroke-width="2.75" />
<ellipse cx="776.9" cy="848" rx="5" ry="3.6" fill="#000" stroke="#000" stroke-width="0" />
<path d="M824.7 862.9A4.4 3 0 1 1 829.7 863" fill="none" stroke="#000" stroke-width="3.06" />
<line x1="848.9" y1="858.5" x2="826.4" y2="870.5" stroke="#000" stroke-width="2.75" />
<path d="M826.4 870.5L822.9 897.5Q832.4 902.5 841.4 896.5" fill="none" stroke="#000" stroke-width="3.06" />
<line x1="825.8" y1="875" x2="834.8" y2="876.2" stroke="#000" stroke-width="2.75" />
<line x1="825.2" y1="879.5" x2="834.2" y2="880.7" stroke="#000" stroke-width="2.75" />
<line x1="824.6" y1="884" x2="833.6" y2="885.2" stroke="#000" stroke-width="2.75" />
<line x1="824.1" y1="888.5" x2="833.1" y2="889.7" stroke="#000" stroke-width="2.75" />
<line x1="823.5" y1="893" x2="832.5" y2="894.2" stroke="#000" stroke-width="2.75" />
<path d="M852.2 871.4A4.4 3 0 1 1 857.2 871.5" fill="none" stroke="#000" stroke-width="3.06" />
<path d="M212.3 692.4A4.4 3 0 1 1 217.3 692.5" fill="none" stroke="#000" stroke-width="3.06" />
<ellipse cx="226" cy="694" rx="5" ry="3.6" fill="#000" stroke="#000" stroke-width="0" />
<polyline points="908.5,874.5 871.5,886" fill="none" stroke="#000" stroke-width="4.69" stroke-linecap="round"/>
<polygon points="208.3,783.3 246,794 223.3,806.7 160,815.7 150,811" fill="none" stroke="#000" stroke-width="3.06" stroke-linejoin="round"/>
<line x1="169" y1="814.4" x2="162" y2="810.9" stroke="#000" stroke-width="2.75" />
<line x1="178.1" y1="813.1" x2="171.1" y2="809.6" stroke="#000" stroke-width="2.75" />
<line x1="187.1" y1="811.8" x2="180.1" y2="808.3" stroke="#000" stroke-width="2.75" />
<line x1="196.2" y1="810.6" x2="189.2" y2="807.1" stroke="#000" stroke-width="2.75" />
<line x1="205.2" y1="809.3" x2="198.2" y2="805.8" stroke="#000" stroke-width="2.75" />
<line x1="214.3" y1="808" x2="207.3" y2="804.5" stroke="#000" stroke-width="2.75" />
<path d="M207.3 792.9A4.4 3 0 1 1 212.3 793" fill="none" stroke="#000" stroke-width="3.06" />
<ellipse cx="227" cy="795" rx="5" ry="3.6" fill="#000" stroke="#000" stroke-width="0" />
<polyline points="947,883.3 1002.4,898.1 1083.3,919.3 1158,939.8 1237,960.8 1313,982.3 1387.5,1002.8 1461.5,1023.8 1545,1044.3 1622.5,1065.8 1706.7,1087.3 1784,1108.3 1864.6,1129.8 1942.6,1151.4 2023.2,1173.2 2102,1195 2180.9,1216.8 2264.1,1239.2" fill="none" stroke="#000" stroke-width="2.65" />
<path d="M 947 883.3 L 940.3 891.7 L 935.3 894.2 L 916.8 894.2 L 910.1 900.9 L 899.2 902.6 L 893.4 917.7 L 908.5 922.8 L 977.2 911.8" fill="none" stroke="#000" stroke-width="3.06" stroke-linejoin="round" stroke-linecap="round"/>
<line x1="917.1" y1="921.4" x2="908.1" y2="917.9" stroke="#000" stroke-width="2.75" />
<line x1="925.7" y1="920" x2="916.7" y2="916.5" stroke="#000" stroke-width="2.75" />
<line x1="934.3" y1="918.7" x2="925.3" y2="915.2" stroke="#000" stroke-width="2.75" />
<line x1="942.9" y1="917.3" x2="933.9" y2="913.8" stroke="#000" stroke-width="2.75" />
<line x1="951.5" y1="915.9" x2="942.5" y2="912.4" stroke="#000" stroke-width="2.75" />
<line x1="960.1" y1="914.6" x2="951.1" y2="911.1" stroke="#000" stroke-width="2.75" />
<line x1="968.6" y1="913.2" x2="959.6" y2="909.7" stroke="#000" stroke-width="2.75" />
<line x1="1002.4" y1="899.3" x2="977.4" y2="913.8" stroke="#000" stroke-width="2.75" />
<polyline points="977.4,913.8 969.7,942.8 984.9,948.3 1058.3,935" fill="none" stroke="#000" stroke-width="3.47" stroke-linejoin="round"/>
<line x1="993.1" y1="946.8" x2="983.1" y2="943" stroke="#000" stroke-width="2.96" />
<line x1="1001.2" y1="945.3" x2="991.2" y2="941.5" stroke="#000" stroke-width="2.96" />
<line x1="1009.4" y1="943.9" x2="999.4" y2="940.1" stroke="#000" stroke-width="2.96" />
<line x1="1017.5" y1="942.4" x2="1007.5" y2="938.6" stroke="#000" stroke-width="2.96" />
<line x1="1025.7" y1="940.9" x2="1015.7" y2="937.1" stroke="#000" stroke-width="2.96" />
<line x1="1033.8" y1="939.4" x2="1023.8" y2="935.6" stroke="#000" stroke-width="2.96" />
<line x1="1042" y1="938" x2="1032" y2="934.2" stroke="#000" stroke-width="2.96" />
<line x1="1050.1" y1="936.5" x2="1040.1" y2="932.7" stroke="#000" stroke-width="2.96" />
<line x1="976.1" y1="918.6" x2="985.1" y2="919.8" stroke="#000" stroke-width="2.75" />
<line x1="974.8" y1="923.5" x2="983.8" y2="924.7" stroke="#000" stroke-width="2.75" />
<line x1="973.5" y1="928.3" x2="982.5" y2="929.5" stroke="#000" stroke-width="2.75" />
<line x1="972.3" y1="933.1" x2="981.3" y2="934.3" stroke="#000" stroke-width="2.75" />
<line x1="971" y1="938" x2="980" y2="939.2" stroke="#000" stroke-width="2.75" />
<ellipse cx="1006.4" cy="909.8" rx="5" ry="3.6" fill="#000" stroke="#000" stroke-width="0" />
<ellipse cx="1057.4" cy="922.8" rx="5" ry="3.6" fill="#000" stroke="#000" stroke-width="0" />
<line x1="1083.3" y1="920.5" x2="1058.3" y2="935" stroke="#000" stroke-width="2.75" />
<polyline points="1058.3,935 1050.6,964 1065.8,969.5 1133,955.5" fill="none" stroke="#000" stroke-width="3.47" stroke-linejoin="round"/>
<line x1="1073.3" y1="967.9" x2="1063.3" y2="964.1" stroke="#000" stroke-width="2.96" />
<line x1="1080.7" y1="966.4" x2="1070.7" y2="962.6" stroke="#000" stroke-width="2.96" />
<line x1="1088.2" y1="964.8" x2="1078.2" y2="961" stroke="#000" stroke-width="2.96" />
<line x1="1095.7" y1="963.3" x2="1085.7" y2="959.5" stroke="#000" stroke-width="2.96" />
<line x1="1103.1" y1="961.7" x2="1093.1" y2="957.9" stroke="#000" stroke-width="2.96" />
<line x1="1110.6" y1="960.2" x2="1100.6" y2="956.4" stroke="#000" stroke-width="2.96" />
<line x1="1118.1" y1="958.6" x2="1108.1" y2="954.8" stroke="#000" stroke-width="2.96" />
<line x1="1125.5" y1="957.1" x2="1115.5" y2="953.3" stroke="#000" stroke-width="2.96" />
<line x1="1057" y1="939.8" x2="1066" y2="941" stroke="#000" stroke-width="2.75" />
<line x1="1055.7" y1="944.7" x2="1064.7" y2="945.9" stroke="#000" stroke-width="2.75" />
<line x1="1054.4" y1="949.5" x2="1063.4" y2="950.7" stroke="#000" stroke-width="2.75" />
<line x1="1053.2" y1="954.3" x2="1062.2" y2="955.5" stroke="#000" stroke-width="2.75" />
<line x1="1051.9" y1="959.2" x2="1060.9" y2="960.4" stroke="#000" stroke-width="2.75" />
<path d="M1084.6 933.4A4.4 3 0 1 1 1089.6 933.5" fill="none" stroke="#000" stroke-width="3.06" />
<ellipse cx="1138.3" cy="944" rx="5" ry="3.6" fill="#000" stroke="#000" stroke-width="0" />
<line x1="1158" y1="941" x2="1133" y2="955.5" stroke="#000" stroke-width="2.75" />
<polyline points="1133,955.5 1125.3,984.5 1140.5,990 1212,976.5" fill="none" stroke="#000" stroke-width="3.47" stroke-linejoin="round"/>
<line x1="1148.4" y1="988.5" x2="1138.4" y2="984.7" stroke="#000" stroke-width="2.96" />
<line x1="1156.4" y1="987" x2="1146.4" y2="983.2" stroke="#000" stroke-width="2.96" />
<line x1="1164.3" y1="985.5" x2="1154.3" y2="981.7" stroke="#000" stroke-width="2.96" />
<line x1="1172.3" y1="984" x2="1162.3" y2="980.2" stroke="#000" stroke-width="2.96" />
<line x1="1180.2" y1="982.5" x2="1170.2" y2="978.7" stroke="#000" stroke-width="2.96" />
<line x1="1188.2" y1="981" x2="1178.2" y2="977.2" stroke="#000" stroke-width="2.96" />
<line x1="1196.1" y1="979.5" x2="1186.1" y2="975.7" stroke="#000" stroke-width="2.96" />
<line x1="1204.1" y1="978" x2="1194.1" y2="974.2" stroke="#000" stroke-width="2.96" />
<line x1="1131.7" y1="960.3" x2="1140.7" y2="961.5" stroke="#000" stroke-width="2.75" />
<line x1="1130.4" y1="965.2" x2="1139.4" y2="966.4" stroke="#000" stroke-width="2.75" />
<line x1="1129.2" y1="970" x2="1138.2" y2="971.2" stroke="#000" stroke-width="2.75" />
<line x1="1127.9" y1="974.8" x2="1136.9" y2="976" stroke="#000" stroke-width="2.75" />
<line x1="1126.6" y1="979.7" x2="1135.6" y2="980.9" stroke="#000" stroke-width="2.75" />
<ellipse cx="1162" cy="951.5" rx="5" ry="3.6" fill="#000" stroke="#000" stroke-width="0" />
<path d="M1210.3 966.9A4.4 3 0 1 1 1215.3 967" fill="none" stroke="#000" stroke-width="3.06" />
<line x1="1237" y1="962" x2="1212" y2="976.5" stroke="#000" stroke-width="2.75" />
<polyline points="1212,976.5 1204.3,1005.5 1219.5,1011 1288,998" fill="none" stroke="#000" stroke-width="3.47" stroke-linejoin="round"/>
<line x1="1227.1" y1="1009.6" x2="1217.1" y2="1005.8" stroke="#000" stroke-width="2.96" />
<line x1="1234.7" y1="1008.1" x2="1224.7" y2="1004.3" stroke="#000" stroke-width="2.96" />
<line x1="1242.3" y1="1006.7" x2="1232.3" y2="1002.9" stroke="#000" stroke-width="2.96" />
<line x1="1249.9" y1="1005.2" x2="1239.9" y2="1001.4" stroke="#000" stroke-width="2.96" />
<line x1="1257.6" y1="1003.8" x2="1247.6" y2="1000" stroke="#000" stroke-width="2.96" />
<line x1="1265.2" y1="1002.3" x2="1255.2" y2="998.5" stroke="#000" stroke-width="2.96" />
<line x1="1272.8" y1="1000.9" x2="1262.8" y2="997.1" stroke="#000" stroke-width="2.96" />
<line x1="1280.4" y1="999.4" x2="1270.4" y2="995.6" stroke="#000" stroke-width="2.96" />
<line x1="1210.7" y1="981.3" x2="1219.7" y2="982.5" stroke="#000" stroke-width="2.75" />
<line x1="1209.4" y1="986.2" x2="1218.4" y2="987.4" stroke="#000" stroke-width="2.75" />
<line x1="1208.2" y1="991" x2="1217.2" y2="992.2" stroke="#000" stroke-width="2.75" />
<line x1="1206.9" y1="995.8" x2="1215.9" y2="997" stroke="#000" stroke-width="2.75" />
<line x1="1205.6" y1="1000.7" x2="1214.6" y2="1001.9" stroke="#000" stroke-width="2.75" />
<ellipse cx="1241" cy="972.5" rx="5" ry="3.6" fill="#000" stroke="#000" stroke-width="0" />
<ellipse cx="1292" cy="985.5" rx="5" ry="3.6" fill="#000" stroke="#000" stroke-width="0" />
<line x1="1313" y1="983.5" x2="1288" y2="998" stroke="#000" stroke-width="2.75" />
<polyline points="1288,998 1280.3,1027 1295.5,1032.5 1362.5,1018.5" fill="none" stroke="#000" stroke-width="3.47" stroke-linejoin="round"/>
<line x1="1302.9" y1="1030.9" x2="1292.9" y2="1027.1" stroke="#000" stroke-width="2.96" />
<line x1="1310.4" y1="1029.4" x2="1300.4" y2="1025.6" stroke="#000" stroke-width="2.96" />
<line x1="1317.8" y1="1027.8" x2="1307.8" y2="1024" stroke="#000" stroke-width="2.96" />
<line x1="1325.3" y1="1026.3" x2="1315.3" y2="1022.5" stroke="#000" stroke-width="2.96" />
<line x1="1332.7" y1="1024.7" x2="1322.7" y2="1020.9" stroke="#000" stroke-width="2.96" />
<line x1="1340.2" y1="1023.2" x2="1330.2" y2="1019.4" stroke="#000" stroke-width="2.96" />
<line x1="1347.6" y1="1021.6" x2="1337.6" y2="1017.8" stroke="#000" stroke-width="2.96" />
<line x1="1355.1" y1="1020.1" x2="1345.1" y2="1016.3" stroke="#000" stroke-width="2.96" />
<line x1="1286.7" y1="1002.8" x2="1295.7" y2="1004" stroke="#000" stroke-width="2.75" />
<line x1="1285.4" y1="1007.7" x2="1294.4" y2="1008.9" stroke="#000" stroke-width="2.75" />
<line x1="1284.2" y1="1012.5" x2="1293.2" y2="1013.7" stroke="#000" stroke-width="2.75" />
<line x1="1282.9" y1="1017.3" x2="1291.9" y2="1018.5" stroke="#000" stroke-width="2.75" />
<line x1="1281.6" y1="1022.2" x2="1290.6" y2="1023.4" stroke="#000" stroke-width="2.75" />
<path d="M1314.3 996.4A4.4 3 0 1 1 1319.3 996.5" fill="none" stroke="#000" stroke-width="3.06" />
<ellipse cx="1368" cy="1007" rx="5" ry="3.6" fill="#000" stroke="#000" stroke-width="0" />
<line x1="1387.5" y1="1004" x2="1362.5" y2="1018.5" stroke="#000" stroke-width="2.75" />
<polyline points="1362.5,1018.5 1354.8,1047.5 1370,1053 1436.5,1039.5" fill="none" stroke="#000" stroke-width="3.47" stroke-linejoin="round"/>
<line x1="1377.4" y1="1051.5" x2="1367.4" y2="1047.7" stroke="#000" stroke-width="2.96" />
<line x1="1384.8" y1="1050" x2="1374.8" y2="1046.2" stroke="#000" stroke-width="2.96" />
<line x1="1392.2" y1="1048.5" x2="1382.2" y2="1044.7" stroke="#000" stroke-width="2.96" />
<line x1="1399.6" y1="1047" x2="1389.6" y2="1043.2" stroke="#000" stroke-width="2.96" />
<line x1="1406.9" y1="1045.5" x2="1396.9" y2="1041.7" stroke="#000" stroke-width="2.96" />
<line x1="1414.3" y1="1044" x2="1404.3" y2="1040.2" stroke="#000" stroke-width="2.96" />
<line x1="1421.7" y1="1042.5" x2="1411.7" y2="1038.7" stroke="#000" stroke-width="2.96" />
<line x1="1429.1" y1="1041" x2="1419.1" y2="1037.2" stroke="#000" stroke-width="2.96" />
<line x1="1361.2" y1="1023.3" x2="1370.2" y2="1024.5" stroke="#000" stroke-width="2.75" />
<line x1="1359.9" y1="1028.2" x2="1368.9" y2="1029.4" stroke="#000" stroke-width="2.75" />
<line x1="1358.7" y1="1033" x2="1367.7" y2="1034.2" stroke="#000" stroke-width="2.75" />
<line x1="1357.4" y1="1037.8" x2="1366.4" y2="1039" stroke="#000" stroke-width="2.75" />
<line x1="1356.1" y1="1042.7" x2="1365.1" y2="1043.9" stroke="#000" stroke-width="2.75" />
<ellipse cx="1391.5" cy="1014.5" rx="5" ry="3.6" fill="#000" stroke="#000" stroke-width="0" />
<path d="M1439.8 1029.9A4.4 3 0 1 1 1444.8 1030" fill="none" stroke="#000" stroke-width="3.06" />
<line x1="1461.5" y1="1025" x2="1436.5" y2="1039.5" stroke="#000" stroke-width="2.75" />
<polyline points="1436.5,1039.5 1428.8,1068.5 1444,1074 1520,1060" fill="none" stroke="#000" stroke-width="3.47" stroke-linejoin="round"/>
<line x1="1452.4" y1="1072.4" x2="1442.4" y2="1068.6" stroke="#000" stroke-width="2.96" />
<line x1="1460.9" y1="1070.9" x2="1450.9" y2="1067.1" stroke="#000" stroke-width="2.96" />
<line x1="1469.3" y1="1069.3" x2="1459.3" y2="1065.5" stroke="#000" stroke-width="2.96" />
<line x1="1477.8" y1="1067.8" x2="1467.8" y2="1064" stroke="#000" stroke-width="2.96" />
<line x1="1486.2" y1="1066.2" x2="1476.2" y2="1062.4" stroke="#000" stroke-width="2.96" />
<line x1="1494.7" y1="1064.7" x2="1484.7" y2="1060.9" stroke="#000" stroke-width="2.96" />
<line x1="1503.1" y1="1063.1" x2="1493.1" y2="1059.3" stroke="#000" stroke-width="2.96" />
<line x1="1511.6" y1="1061.6" x2="1501.6" y2="1057.8" stroke="#000" stroke-width="2.96" />
<line x1="1435.2" y1="1044.3" x2="1444.2" y2="1045.5" stroke="#000" stroke-width="2.75" />
<line x1="1433.9" y1="1049.2" x2="1442.9" y2="1050.4" stroke="#000" stroke-width="2.75" />
<line x1="1432.7" y1="1054" x2="1441.7" y2="1055.2" stroke="#000" stroke-width="2.75" />
<line x1="1431.4" y1="1058.8" x2="1440.4" y2="1060" stroke="#000" stroke-width="2.75" />
<line x1="1430.1" y1="1063.7" x2="1439.1" y2="1064.9" stroke="#000" stroke-width="2.75" />
<ellipse cx="1465.5" cy="1035.5" rx="5" ry="3.6" fill="#000" stroke="#000" stroke-width="0" />
<ellipse cx="1516.5" cy="1048.5" rx="5" ry="3.6" fill="#000" stroke="#000" stroke-width="0" />
<line x1="1545" y1="1045.5" x2="1520" y2="1060" stroke="#000" stroke-width="2.75" />
<polyline points="1520,1060 1512.3,1089 1527.5,1094.5 1597.5,1081.5" fill="none" stroke="#000" stroke-width="3.47" stroke-linejoin="round"/>
<line x1="1535.3" y1="1093.1" x2="1525.3" y2="1089.3" stroke="#000" stroke-width="2.96" />
<line x1="1543.1" y1="1091.6" x2="1533.1" y2="1087.8" stroke="#000" stroke-width="2.96" />
<line x1="1550.8" y1="1090.2" x2="1540.8" y2="1086.4" stroke="#000" stroke-width="2.96" />
<line x1="1558.6" y1="1088.7" x2="1548.6" y2="1084.9" stroke="#000" stroke-width="2.96" />
<line x1="1566.4" y1="1087.3" x2="1556.4" y2="1083.5" stroke="#000" stroke-width="2.96" />
<line x1="1574.2" y1="1085.8" x2="1564.2" y2="1082" stroke="#000" stroke-width="2.96" />
<line x1="1581.9" y1="1084.4" x2="1571.9" y2="1080.6" stroke="#000" stroke-width="2.96" />
<line x1="1589.7" y1="1082.9" x2="1579.7" y2="1079.1" stroke="#000" stroke-width="2.96" />
<line x1="1518.7" y1="1064.8" x2="1527.7" y2="1066" stroke="#000" stroke-width="2.75" />
<line x1="1517.4" y1="1069.7" x2="1526.4" y2="1070.9" stroke="#000" stroke-width="2.75" />
<line x1="1516.2" y1="1074.5" x2="1525.2" y2="1075.7" stroke="#000" stroke-width="2.75" />
<line x1="1514.9" y1="1079.3" x2="1523.9" y2="1080.5" stroke="#000" stroke-width="2.75" />
<line x1="1513.6" y1="1084.2" x2="1522.6" y2="1085.4" stroke="#000" stroke-width="2.75" />
<path d="M1546.3 1058.4A4.4 3 0 1 1 1551.3 1058.5" fill="none" stroke="#000" stroke-width="3.06" />
<ellipse cx="1600" cy="1069" rx="5" ry="3.6" fill="#000" stroke="#000" stroke-width="0" />
<line x1="1622.5" y1="1067" x2="1597.5" y2="1081.5" stroke="#000" stroke-width="2.75" />
<polyline points="1597.5,1081.5 1589.8,1110.5 1605,1116 1681.7,1103" fill="none" stroke="#000" stroke-width="3.47" stroke-linejoin="round"/>
<line x1="1613.5" y1="1114.6" x2="1603.5" y2="1110.8" stroke="#000" stroke-width="2.96" />
<line x1="1622" y1="1113.1" x2="1612" y2="1109.3" stroke="#000" stroke-width="2.96" />
<line x1="1630.6" y1="1111.7" x2="1620.6" y2="1107.9" stroke="#000" stroke-width="2.96" />
<line x1="1639.1" y1="1110.2" x2="1629.1" y2="1106.4" stroke="#000" stroke-width="2.96" />
<line x1="1647.6" y1="1108.8" x2="1637.6" y2="1105" stroke="#000" stroke-width="2.96" />
<line x1="1656.1" y1="1107.3" x2="1646.1" y2="1103.5" stroke="#000" stroke-width="2.96" />
<line x1="1664.7" y1="1105.9" x2="1654.7" y2="1102.1" stroke="#000" stroke-width="2.96" />
<line x1="1673.2" y1="1104.4" x2="1663.2" y2="1100.6" stroke="#000" stroke-width="2.96" />
<line x1="1596.2" y1="1086.3" x2="1605.2" y2="1087.5" stroke="#000" stroke-width="2.75" />
<line x1="1594.9" y1="1091.2" x2="1603.9" y2="1092.4" stroke="#000" stroke-width="2.75" />
<line x1="1593.7" y1="1096" x2="1602.7" y2="1097.2" stroke="#000" stroke-width="2.75" />
<line x1="1592.4" y1="1100.8" x2="1601.4" y2="1102" stroke="#000" stroke-width="2.75" />
<line x1="1591.1" y1="1105.7" x2="1600.1" y2="1106.9" stroke="#000" stroke-width="2.75" />
<ellipse cx="1626.5" cy="1077.5" rx="5" ry="3.6" fill="#000" stroke="#000" stroke-width="0" />
<path d="M1674.8 1092.9A4.4 3 0 1 1 1679.8 1093" fill="none" stroke="#000" stroke-width="3.06" />
<line x1="1706.7" y1="1088.5" x2="1681.7" y2="1103" stroke="#000" stroke-width="2.75" />
<polyline points="1681.7,1103 1674,1132 1689.2,1137.5 1759,1124" fill="none" stroke="#000" stroke-width="3.47" stroke-linejoin="round"/>
<line x1="1697" y1="1136" x2="1687" y2="1132.2" stroke="#000" stroke-width="2.96" />
<line x1="1704.7" y1="1134.5" x2="1694.7" y2="1130.7" stroke="#000" stroke-width="2.96" />
<line x1="1712.5" y1="1133" x2="1702.5" y2="1129.2" stroke="#000" stroke-width="2.96" />
<line x1="1720.2" y1="1131.5" x2="1710.2" y2="1127.7" stroke="#000" stroke-width="2.96" />
<line x1="1728" y1="1130" x2="1718" y2="1126.2" stroke="#000" stroke-width="2.96" />
<line x1="1735.7" y1="1128.5" x2="1725.7" y2="1124.7" stroke="#000" stroke-width="2.96" />
<line x1="1743.5" y1="1127" x2="1733.5" y2="1123.2" stroke="#000" stroke-width="2.96" />
<line x1="1751.2" y1="1125.5" x2="1741.2" y2="1121.7" stroke="#000" stroke-width="2.96" />
<line x1="1680.4" y1="1107.8" x2="1689.4" y2="1109" stroke="#000" stroke-width="2.75" />
<line x1="1679.1" y1="1112.7" x2="1688.1" y2="1113.9" stroke="#000" stroke-width="2.75" />
<line x1="1677.8" y1="1117.5" x2="1686.8" y2="1118.7" stroke="#000" stroke-width="2.75" />
<line x1="1676.6" y1="1122.3" x2="1685.6" y2="1123.5" stroke="#000" stroke-width="2.75" />
<line x1="1675.3" y1="1127.2" x2="1684.3" y2="1128.4" stroke="#000" stroke-width="2.75" />
<ellipse cx="1710.7" cy="1099" rx="5" ry="3.6" fill="#000" stroke="#000" stroke-width="0" />
<ellipse cx="1761.7" cy="1112" rx="5" ry="3.6" fill="#000" stroke="#000" stroke-width="0" />
<line x1="1784" y1="1109.5" x2="1759" y2="1124" stroke="#000" stroke-width="2.75" />
<polyline points="1759,1124 1751.3,1153 1766.5,1158.5 1839.6,1145.5" fill="none" stroke="#000" stroke-width="3.47" stroke-linejoin="round"/>
<line x1="1774.6" y1="1157.1" x2="1764.6" y2="1153.3" stroke="#000" stroke-width="2.96" />
<line x1="1782.7" y1="1155.6" x2="1772.7" y2="1151.8" stroke="#000" stroke-width="2.96" />
<line x1="1790.9" y1="1154.2" x2="1780.9" y2="1150.4" stroke="#000" stroke-width="2.96" />
<line x1="1799" y1="1152.7" x2="1789" y2="1148.9" stroke="#000" stroke-width="2.96" />
<line x1="1807.1" y1="1151.3" x2="1797.1" y2="1147.5" stroke="#000" stroke-width="2.96" />
<line x1="1815.2" y1="1149.8" x2="1805.2" y2="1146" stroke="#000" stroke-width="2.96" />
<line x1="1823.4" y1="1148.4" x2="1813.4" y2="1144.6" stroke="#000" stroke-width="2.96" />
<line x1="1831.5" y1="1146.9" x2="1821.5" y2="1143.1" stroke="#000" stroke-width="2.96" />
<line x1="1757.7" y1="1128.8" x2="1766.7" y2="1130" stroke="#000" stroke-width="2.75" />
<line x1="1756.4" y1="1133.7" x2="1765.4" y2="1134.9" stroke="#000" stroke-width="2.75" />
<line x1="1755.2" y1="1138.5" x2="1764.2" y2="1139.7" stroke="#000" stroke-width="2.75" />
<line x1="1753.9" y1="1143.3" x2="1762.9" y2="1144.5" stroke="#000" stroke-width="2.75" />
<line x1="1752.6" y1="1148.2" x2="1761.6" y2="1149.4" stroke="#000" stroke-width="2.75" />
<path d="M1785.3 1122.4A4.4 3 0 1 1 1790.3 1122.5" fill="none" stroke="#000" stroke-width="3.06" />
<ellipse cx="1839" cy="1133" rx="5" ry="3.6" fill="#000" stroke="#000" stroke-width="0" />
<line x1="1864.6" y1="1131" x2="1839.6" y2="1145.5" stroke="#000" stroke-width="2.75" />
<polyline points="1839.6,1145.5 1831.9,1174.5 1847.1,1180 1917.6,1167.1" fill="none" stroke="#000" stroke-width="3.47" stroke-linejoin="round"/>
<line x1="1854.9" y1="1178.6" x2="1844.9" y2="1174.8" stroke="#000" stroke-width="2.96" />
<line x1="1862.8" y1="1177.1" x2="1852.8" y2="1173.3" stroke="#000" stroke-width="2.96" />
<line x1="1870.6" y1="1175.7" x2="1860.6" y2="1171.9" stroke="#000" stroke-width="2.96" />
<line x1="1878.4" y1="1174.3" x2="1868.4" y2="1170.5" stroke="#000" stroke-width="2.96" />
<line x1="1886.3" y1="1172.8" x2="1876.3" y2="1169" stroke="#000" stroke-width="2.96" />
<line x1="1894.1" y1="1171.4" x2="1884.1" y2="1167.6" stroke="#000" stroke-width="2.96" />
<line x1="1901.9" y1="1170" x2="1891.9" y2="1166.2" stroke="#000" stroke-width="2.96" />
<line x1="1909.8" y1="1168.5" x2="1899.8" y2="1164.7" stroke="#000" stroke-width="2.96" />
<line x1="1838.3" y1="1150.3" x2="1847.3" y2="1151.5" stroke="#000" stroke-width="2.75" />
<line x1="1837" y1="1155.2" x2="1846" y2="1156.4" stroke="#000" stroke-width="2.75" />
<line x1="1835.8" y1="1160" x2="1844.8" y2="1161.2" stroke="#000" stroke-width="2.75" />
<line x1="1834.5" y1="1164.8" x2="1843.5" y2="1166" stroke="#000" stroke-width="2.75" />
<line x1="1833.2" y1="1169.7" x2="1842.2" y2="1170.9" stroke="#000" stroke-width="2.75" />
<ellipse cx="1868.6" cy="1141.5" rx="5" ry="3.6" fill="#000" stroke="#000" stroke-width="0" />
<path d="M1916.9 1156.9A4.4 3 0 1 1 1921.9 1157" fill="none" stroke="#000" stroke-width="3.06" />
<line x1="1942.6" y1="1152.6" x2="1917.6" y2="1167.1" stroke="#000" stroke-width="2.75" />
<polyline points="1917.6,1167.1 1909.9,1196.1 1925.1,1201.6 1998.2,1188.9" fill="none" stroke="#000" stroke-width="3.47" stroke-linejoin="round"/>
<line x1="1933.2" y1="1200.2" x2="1923.2" y2="1196.4" stroke="#000" stroke-width="2.96" />
<line x1="1941.3" y1="1198.8" x2="1931.3" y2="1195" stroke="#000" stroke-width="2.96" />
<line x1="1949.5" y1="1197.4" x2="1939.5" y2="1193.6" stroke="#000" stroke-width="2.96" />
<line x1="1957.6" y1="1196" x2="1947.6" y2="1192.2" stroke="#000" stroke-width="2.96" />
<line x1="1965.7" y1="1194.5" x2="1955.7" y2="1190.7" stroke="#000" stroke-width="2.96" />
<line x1="1973.8" y1="1193.1" x2="1963.8" y2="1189.3" stroke="#000" stroke-width="2.96" />
<line x1="1982" y1="1191.7" x2="1972" y2="1187.9" stroke="#000" stroke-width="2.96" />
<line x1="1990.1" y1="1190.3" x2="1980.1" y2="1186.5" stroke="#000" stroke-width="2.96" />
<line x1="1916.3" y1="1171.9" x2="1925.3" y2="1173.1" stroke="#000" stroke-width="2.75" />
<line x1="1915" y1="1176.8" x2="1924" y2="1178" stroke="#000" stroke-width="2.75" />
<line x1="1913.8" y1="1181.6" x2="1922.8" y2="1182.8" stroke="#000" stroke-width="2.75" />
<line x1="1912.5" y1="1186.4" x2="1921.5" y2="1187.6" stroke="#000" stroke-width="2.75" />
<line x1="1911.2" y1="1191.3" x2="1920.2" y2="1192.5" stroke="#000" stroke-width="2.75" />
<ellipse cx="1946.6" cy="1163.1" rx="5" ry="3.6" fill="#000" stroke="#000" stroke-width="0" />
<ellipse cx="1997.6" cy="1176.1" rx="5" ry="3.6" fill="#000" stroke="#000" stroke-width="0" />
<line x1="2023.2" y1="1174.4" x2="1998.2" y2="1188.9" stroke="#000" stroke-width="2.75" />
<polyline points="1998.2,1188.9 1990.5,1217.9 2005.7,1223.4 2077,1210.7" fill="none" stroke="#000" stroke-width="3.47" stroke-linejoin="round"/>
<line x1="2013.6" y1="1222" x2="2003.6" y2="1218.2" stroke="#000" stroke-width="2.96" />
<line x1="2021.5" y1="1220.6" x2="2011.5" y2="1216.8" stroke="#000" stroke-width="2.96" />
<line x1="2029.5" y1="1219.2" x2="2019.5" y2="1215.4" stroke="#000" stroke-width="2.96" />
<line x1="2037.4" y1="1217.8" x2="2027.4" y2="1214" stroke="#000" stroke-width="2.96" />
<line x1="2045.3" y1="1216.3" x2="2035.3" y2="1212.5" stroke="#000" stroke-width="2.96" />
<line x1="2053.2" y1="1214.9" x2="2043.2" y2="1211.1" stroke="#000" stroke-width="2.96" />
<line x1="2061.2" y1="1213.5" x2="2051.2" y2="1209.7" stroke="#000" stroke-width="2.96" />
<line x1="2069.1" y1="1212.1" x2="2059.1" y2="1208.3" stroke="#000" stroke-width="2.96" />
<line x1="1996.9" y1="1193.7" x2="2005.9" y2="1194.9" stroke="#000" stroke-width="2.75" />
<line x1="1995.6" y1="1198.6" x2="2004.6" y2="1199.8" stroke="#000" stroke-width="2.75" />
<line x1="1994.3" y1="1203.4" x2="2003.3" y2="1204.6" stroke="#000" stroke-width="2.75" />
<line x1="1993.1" y1="1208.2" x2="2002.1" y2="1209.4" stroke="#000" stroke-width="2.75" />
<line x1="1991.8" y1="1213.1" x2="2000.8" y2="1214.3" stroke="#000" stroke-width="2.75" />
<path d="M2024.5 1187.3A4.4 3 0 1 1 2029.5 1187.4" fill="none" stroke="#000" stroke-width="3.06" />
<ellipse cx="2078.2" cy="1197.9" rx="5" ry="3.6" fill="#000" stroke="#000" stroke-width="0" />
<line x1="2102" y1="1196.2" x2="2077" y2="1210.7" stroke="#000" stroke-width="2.75" />
<polyline points="2077,1210.7 2069.3,1239.7 2084.5,1245.2 2155.9,1232.5" fill="none" stroke="#000" stroke-width="3.47" stroke-linejoin="round"/>
<line x1="2092.4" y1="1243.8" x2="2082.4" y2="1240" stroke="#000" stroke-width="2.96" />
<line x1="2100.4" y1="1242.4" x2="2090.4" y2="1238.6" stroke="#000" stroke-width="2.96" />
<line x1="2108.3" y1="1241" x2="2098.3" y2="1237.2" stroke="#000" stroke-width="2.96" />
<line x1="2116.2" y1="1239.6" x2="2106.2" y2="1235.8" stroke="#000" stroke-width="2.96" />
<line x1="2124.2" y1="1238.1" x2="2114.2" y2="1234.3" stroke="#000" stroke-width="2.96" />
<line x1="2132.1" y1="1236.7" x2="2122.1" y2="1232.9" stroke="#000" stroke-width="2.96" />
<line x1="2140" y1="1235.3" x2="2130" y2="1231.5" stroke="#000" stroke-width="2.96" />
<line x1="2148" y1="1233.9" x2="2138" y2="1230.1" stroke="#000" stroke-width="2.96" />
<line x1="2075.7" y1="1215.5" x2="2084.7" y2="1216.7" stroke="#000" stroke-width="2.75" />
<line x1="2074.4" y1="1220.4" x2="2083.4" y2="1221.6" stroke="#000" stroke-width="2.75" />
<line x1="2073.2" y1="1225.2" x2="2082.2" y2="1226.4" stroke="#000" stroke-width="2.75" />
<line x1="2071.9" y1="1230" x2="2080.9" y2="1231.2" stroke="#000" stroke-width="2.75" />
<line x1="2070.6" y1="1234.9" x2="2079.6" y2="1236.1" stroke="#000" stroke-width="2.75" />
<ellipse cx="2106" cy="1206.7" rx="5" ry="3.6" fill="#000" stroke="#000" stroke-width="0" />
<path d="M2154.3 1222.1A4.4 3 0 1 1 2159.3 1222.2" fill="none" stroke="#000" stroke-width="3.06" />
<line x1="2180.9" y1="1218" x2="2155.9" y2="1232.5" stroke="#000" stroke-width="2.75" />
<polyline points="2155.9,1232.5 2148.2,1261.5 2163.4,1267 2239.1,1254.9" fill="none" stroke="#000" stroke-width="3.47" stroke-linejoin="round"/>
<line x1="2171.8" y1="1265.7" x2="2161.8" y2="1261.9" stroke="#000" stroke-width="2.96" />
<line x1="2180.2" y1="1264.3" x2="2170.2" y2="1260.5" stroke="#000" stroke-width="2.96" />
<line x1="2188.6" y1="1263" x2="2178.6" y2="1259.2" stroke="#000" stroke-width="2.96" />
<line x1="2197" y1="1261.6" x2="2187" y2="1257.8" stroke="#000" stroke-width="2.96" />
<line x1="2205.5" y1="1260.3" x2="2195.5" y2="1256.5" stroke="#000" stroke-width="2.96" />
<line x1="2213.9" y1="1258.9" x2="2203.9" y2="1255.1" stroke="#000" stroke-width="2.96" />
<line x1="2222.3" y1="1257.6" x2="2212.3" y2="1253.8" stroke="#000" stroke-width="2.96" />
<line x1="2230.7" y1="1256.2" x2="2220.7" y2="1252.4" stroke="#000" stroke-width="2.96" />
<line x1="2154.6" y1="1237.3" x2="2163.6" y2="1238.5" stroke="#000" stroke-width="2.75" />
<line x1="2153.3" y1="1242.2" x2="2162.3" y2="1243.4" stroke="#000" stroke-width="2.75" />
<line x1="2152.1" y1="1247" x2="2161.1" y2="1248.2" stroke="#000" stroke-width="2.75" />
<line x1="2150.8" y1="1251.8" x2="2159.8" y2="1253" stroke="#000" stroke-width="2.75" />
<line x1="2149.5" y1="1256.7" x2="2158.5" y2="1257.9" stroke="#000" stroke-width="2.75" />
<ellipse cx="2184.9" cy="1228.5" rx="5" ry="3.6" fill="#000" stroke="#000" stroke-width="0" />
<ellipse cx="2235.9" cy="1241.5" rx="5" ry="3.6" fill="#000" stroke="#000" stroke-width="0" />
<path d="M976.3 902.4A4.4 3 0 1 1 981.3 902.5" fill="none" stroke="#000" stroke-width="3.06" />
<line x1="2264.1" y1="1240.4" x2="2234.1" y2="1257.4" stroke="#000" stroke-width="2.75" />
<polyline points="2264.1,1240.4 2450,1287.4 2684.9,1351.1" fill="none" stroke="#000" stroke-width="2.86" />
<polyline points="2233.9,1258 2450,1313.5 2659.7,1374.6" fill="none" stroke="#000" stroke-width="5.1" />
<polyline points="2686,1350.5 2661,1375" fill="none" stroke="#000" stroke-width="5.61" stroke-linecap="round"/>
<path d="M2262.2 1253.5A4.4 2.8 0 1 1 2267.2 1253.7" fill="none" stroke="#000" stroke-width="3.37" />
<path d="M2311.7 1264.4A4.4 2.8 0 1 1 2316.7 1264.6" fill="none" stroke="#000" stroke-width="3.37" />
<path d="M2336.9 1271.9A4.4 2.8 0 1 1 2341.9 1272.1" fill="none" stroke="#000" stroke-width="3.37" />
<path d="M2391.4 1287.9A4.4 2.8 0 1 1 2396.4 1288.1" fill="none" stroke="#000" stroke-width="3.37" />
<path d="M2409 1291.2A4.4 2.8 0 1 1 2414 1291.4" fill="none" stroke="#000" stroke-width="3.37" />
<path d="M2476 1311A4.4 2.8 0 1 1 2481 1311.2" fill="none" stroke="#000" stroke-width="3.37" />
<path d="M2498.5 1314.1A4.4 2.8 0 1 1 2503.5 1314.3" fill="none" stroke="#000" stroke-width="3.37" />
<path d="M2565.6 1334.9A4.4 2.8 0 1 1 2570.6 1335.1" fill="none" stroke="#000" stroke-width="3.37" />
<path d="M2592.4 1340.8A4.4 2.8 0 1 1 2597.4 1341" fill="none" stroke="#000" stroke-width="3.37" />
<path d="M2650.3 1357.5A4.4 2.8 0 1 1 2655.3 1357.7" fill="none" stroke="#000" stroke-width="3.37" />
<polyline points="1828,1103 1852,1081.1 2150,1159 2331.2,1207.7 2450,1240.4 2770.5,1332.7" fill="none" stroke="#000" stroke-width="3.06" />
<polyline points="1829,1104.6 2150,1189.2 2450,1268.9 2752,1354.5" fill="none" stroke="#000" stroke-width="5.71" />
<polyline points="1852,1081.1 1829,1103.5" fill="none" stroke="#000" stroke-width="5.1" stroke-linecap="round"/>
<polyline points="2771,1332.5 2753,1355" fill="none" stroke="#000" stroke-width="5.61" stroke-linecap="round"/>
<path d="M1857.7 1097.2A4.4 2.8 0 1 1 1862.7 1097.4" fill="none" stroke="#000" stroke-width="3.37" />
<path d="M1883.7 1104.3A4.4 2.8 0 1 1 1888.7 1104.5" fill="none" stroke="#000" stroke-width="3.37" />
<path d="M1939.1 1119.7A4.4 2.8 0 1 1 1944.1 1119.9" fill="none" stroke="#000" stroke-width="3.37" />
<path d="M1956.7 1123.9A4.4 2.8 0 1 1 1961.7 1124.1" fill="none" stroke="#000" stroke-width="3.37" />
<path d="M2024.6 1142.9A4.4 2.8 0 1 1 2029.6 1143.1" fill="none" stroke="#000" stroke-width="3.37" />
<path d="M2051.5 1149.1A4.4 2.8 0 1 1 2056.5 1149.3" fill="none" stroke="#000" stroke-width="3.37" />
<path d="M2102.7 1161.3A4.4 2.8 0 1 1 2107.7 1161.5" fill="none" stroke="#000" stroke-width="3.37" />
<path d="M2127.8 1167.7A4.4 2.8 0 1 1 2132.8 1167.9" fill="none" stroke="#000" stroke-width="3.37" />
<path d="M2182.4 1183.1A4.4 2.8 0 1 1 2187.4 1183.3" fill="none" stroke="#000" stroke-width="3.37" />
<path d="M2201.7 1187A4.4 2.8 0 1 1 2206.7 1187.2" fill="none" stroke="#000" stroke-width="3.37" />
<path d="M2266.4 1206.5A4.4 2.8 0 1 1 2271.4 1206.7" fill="none" stroke="#000" stroke-width="3.37" />
<path d="M2294.1 1213.2A4.4 2.8 0 1 1 2299.1 1213.4" fill="none" stroke="#000" stroke-width="3.37" />
<path d="M2345.3 1226.6A4.4 2.8 0 1 1 2350.3 1226.8" fill="none" stroke="#000" stroke-width="3.37" />
<path d="M2370.5 1233.3A4.4 2.8 0 1 1 2375.5 1233.5" fill="none" stroke="#000" stroke-width="3.37" />
<path d="M2423.3 1249.3A4.4 2.8 0 1 1 2428.3 1249.5" fill="none" stroke="#000" stroke-width="3.37" />
<path d="M2441.8 1253.5A4.4 2.8 0 1 1 2446.8 1253.7" fill="none" stroke="#000" stroke-width="3.37" />
<path d="M2509.3 1272.8A4.4 2.8 0 1 1 2514.3 1273" fill="none" stroke="#000" stroke-width="3.37" />
<path d="M2536.3 1279.5A4.4 2.8 0 1 1 2541.3 1279.7" fill="none" stroke="#000" stroke-width="3.37" />
<path d="M2603.3 1298.8A4.4 2.8 0 1 1 2608.3 1299" fill="none" stroke="#000" stroke-width="3.37" />
<path d="M2630.2 1306.4A4.4 2.8 0 1 1 2635.2 1306.6" fill="none" stroke="#000" stroke-width="3.37" />
<path d="M2687.2 1323.1A4.4 2.8 0 1 1 2692.2 1323.3" fill="none" stroke="#000" stroke-width="3.37" />
<path d="M2715.8 1331.5A4.4 2.8 0 1 1 2720.8 1331.7" fill="none" stroke="#000" stroke-width="3.37" />
<path d="M2742.6 1339.1A4.4 2.8 0 1 1 2747.6 1339.3" fill="none" stroke="#000" stroke-width="3.37" />
<polyline points="2244,1139.7 2450,1194.3 2676.5,1253.8 2730.2,1267.2" fill="none" stroke="#000" stroke-width="3.06" />
<path d="M 2244 1139.7 L 2217.1 1155.6 C 2212.9 1159 2212.9 1165.7 2218.8 1169.1" fill="none" stroke="#000" stroke-width="3.47" stroke-linejoin="round" stroke-linecap="round"/>
<polyline points="2220.5,1157.3 2450,1217.8 2663.1,1274" fill="none" stroke="#000" stroke-width="3.26" />
<path d="M 2676.5 1254.7 L 2663.9 1273.6" fill="none" stroke="#000" stroke-width="3.26" stroke-linejoin="round" stroke-linecap="round"/>
<polyline points="2218.8,1169.1 2450,1229.8 2718.5,1298.3" fill="none" stroke="#000" stroke-width="3.47" />
<path d="M2258.8 1161.4A4.6 3 0 1 1 2264 1161.5" fill="none" stroke="#000" stroke-width="3.37" />
<path d="M2316.7 1178.2A4.6 3 0 1 1 2321.9 1178.3" fill="none" stroke="#000" stroke-width="3.37" />
<path d="M2337.6 1183.2A4.6 3 0 1 1 2342.8 1183.3" fill="none" stroke="#000" stroke-width="3.37" />
<path d="M2395.5 1200A4.6 3 0 1 1 2400.7 1200.1" fill="none" stroke="#000" stroke-width="3.37" />
<path d="M2414 1203.3A4.6 3 0 1 1 2419.2 1203.4" fill="none" stroke="#000" stroke-width="3.37" />
<path d="M2479.4 1221A4.6 3 0 1 1 2484.6 1221.1" fill="none" stroke="#000" stroke-width="3.37" />
<path d="M2499.5 1225.2A4.6 3 0 1 1 2504.7 1225.3" fill="none" stroke="#000" stroke-width="3.37" />
<path d="M2564.6 1242.8A4.6 3 0 1 1 2569.8 1242.9" fill="none" stroke="#000" stroke-width="3.37" />
<path d="M2589.8 1248.7A4.6 3 0 1 1 2595 1248.8" fill="none" stroke="#000" stroke-width="3.37" />
<path d="M2653.2 1265A4.6 3 0 1 1 2658.4 1265.1" fill="none" stroke="#000" stroke-width="3.37" />
<ellipse cx="2243.1" cy="1153.1" rx="7.4" ry="5" fill="#000" stroke="#000" stroke-width="0" />
<polyline points="43.3,1346.7 413.3,1165" fill="none" stroke="#000" stroke-width="2.86" />
<polyline points="50,1364 430,1181" fill="none" stroke="#000" stroke-width="4.69" />
<path d="M43.3 1346.7C34 1350 34 1366 45 1367L50 1364" fill="none" stroke="#000" stroke-width="3.06" />
<path d="M47 1348C51 1353 52 1360 49 1365" fill="none" stroke="#000" stroke-width="2.04" />
<path d="M 437.4 1137.7 L 466 1149.5 L 468.5 1229 L 434.1 1229 L 430.7 1164.6 Z" fill="#fff" stroke="#000" stroke-width="0" stroke-linejoin="round" stroke-linecap="round"/>
<path d="M 430.7 1173 L 434.1 1229" fill="none" stroke="#000" stroke-width="4.59" stroke-linejoin="round" stroke-linecap="round"/>
<path d="M 466 1154.5 L 468.5 1229" fill="none" stroke="#000" stroke-width="4.59" stroke-linejoin="round" stroke-linecap="round"/>
<path d="M 533.1 1122.6 L 536.4 1204.8 L 489.5 1229" fill="none" stroke="#000" stroke-width="4.59" stroke-linejoin="round" stroke-linecap="round"/>
<polyline points="433.3,1228.3 470,1239 490,1229" fill="none" stroke="#000" stroke-width="4.59" stroke-linejoin="round" stroke-linecap="round"/>
<path d="M 435.8 1139.4 L 465.1 1149.1 M 470.2 1150.3 L 526.4 1122.6 M 494.5 1112.6 L 528.1 1118.4 L 533.1 1122.6 M 437.4 1136 L 460.9 1124.3" fill="none" stroke="#000" stroke-width="4.08" stroke-linejoin="round" stroke-linecap="round"/>
<path d="M 391.3 1089.1 C 391.3 1087.4 393.8 1087.4 397.2 1088.2 L 461.8 1105 C 466.8 1106.7 466.3 1112.6 462.6 1116.7 L 437.4 1110 C 430.7 1110.9 428.2 1117.6 429.1 1124.3 L 430.7 1147.8 C 429.1 1154.5 435.8 1161.2 437.4 1169.6 L 429.9 1174.6 C 429.1 1169.6 427.4 1164.6 420.7 1162 L 411.4 1164.6 L 404.7 1161.2 C 407.2 1157.9 414 1154.5 417.3 1147.8 C 419 1131 420.7 1110.9 415.6 1104.2 L 393.8 1097.4 C 391.3 1095.8 390.5 1092.4 391.3 1089.1 Z" fill="#fff" stroke="#000" stroke-width="3.47" stroke-linejoin="round" stroke-linecap="round"/>
<ellipse cx="445" cy="1159.9" rx="8.1" ry="9.7" fill="#fff" stroke="#000" stroke-width="3.47" transform="rotate(-25 445 1159.9)"/>
<path d="M 437.4 1169.6 L 452.6 1163.7" fill="none" stroke="#000" stroke-width="3.26" stroke-linejoin="round" stroke-linecap="round"/>
<path d="M 462.6 1097.4 C 467.7 1092.4 481.1 1091.6 487.8 1095.8 L 492.8 1107.5 L 493.7 1136" fill="none" stroke="#000" stroke-width="3.47" stroke-linejoin="round" stroke-linecap="round"/>
<path d="M 490.3 1110.9 L 491.1 1139.4 L 485.3 1138.6" fill="none" stroke="#000" stroke-width="5.1" stroke-linejoin="round" stroke-linecap="round"/>
<path d="M 462.6 1124.3 C 466 1124.3 464.3 1134.4 476 1138.6" fill="none" stroke="#000" stroke-width="3.26" stroke-linejoin="round" stroke-linecap="round"/>
<path d="M 471.8 1100.8 L 479.4 1104.2 L 472.7 1106.7" fill="none" stroke="#000" stroke-width="4.08" stroke-linejoin="round" stroke-linecap="round"/>
<path d="M465.5 1026.5L465.5 1060.5Q473.5 1066.5 481.5 1060.5L481.5 1026.5" fill="#fff" stroke="#000" stroke-width="2.86" stroke-linejoin="round"/>
<line x1="467.7" y1="1029.5" x2="467.7" y2="1060.5" stroke="#000" stroke-width="3.26" />
<path d="M459.5 1013L459.5 1018C459.5 1024.5 462.3 1028.5 465.8 1029.5L481.2 1029.5C484.7 1028.5 487.5 1024.5 487.5 1018L487.5 1013Z" fill="#000" stroke="#000" stroke-width="2.65" stroke-linejoin="round"/>
<ellipse cx="473.5" cy="1024.3" rx="8.1" ry="4.4" fill="#fff" stroke="#000" stroke-width="0" />
<ellipse cx="473.5" cy="1013" rx="13.5" ry="7.5" fill="#fff" stroke="#000" stroke-width="3.06" />
<path d="M 475.2 1068.9 L 476.9 1091.6" fill="none" stroke="#000" stroke-width="2.86" stroke-linejoin="round" stroke-linecap="round"/>
<path d="M 459.3 1061.4 L 441.6 1070.6 L 466 1075.6" fill="none" stroke="#000" stroke-width="3.47" stroke-linejoin="round" stroke-linecap="round"/>
<path d="M 484.4 1073.1 L 500.4 1071.4" fill="none" stroke="#000" stroke-width="3.47" stroke-linejoin="round" stroke-linecap="round"/>
<path d="M 512.1 1068.9 L 528.1 1063.9" fill="none" stroke="#000" stroke-width="3.47" stroke-linejoin="round" stroke-linecap="round"/>
<path d="M 537.3 1059.7 L 553.2 1053 M 558.3 1052.1 L 570 1055.5" fill="none" stroke="#000" stroke-width="3.47" stroke-linejoin="round" stroke-linecap="round"/>
<path d="M 493.7 1043.8 L 506.2 1037.9 C 502.9 1030.3 494.5 1033.7 494.5 1025.3 C 496.2 1018.6 504.6 1016.1 516.3 1020.3" fill="none" stroke="#000" stroke-width="3.47" stroke-linejoin="round" stroke-linecap="round"/>
<path d="M 513 1035.4 L 536.4 1028.7 C 546.5 1027.8 551.5 1030.3 551.5 1035.4 C 551.5 1040.4 546.5 1042.1 539.8 1043.8" fill="none" stroke="#000" stroke-width="3.47" stroke-linejoin="round" stroke-linecap="round"/>
<path d="M 507.1 1054.7 L 531.4 1046.3" fill="none" stroke="#000" stroke-width="3.47" stroke-linejoin="round" stroke-linecap="round"/>
<path d="M 526.4 1021.1 L 536.4 1024.5 C 536.4 1008.5 544.8 1005.2 554.9 1007.7 L 588.5 1016.1 L 603.6 1006.8" fill="none" stroke="#000" stroke-width="3.47" stroke-linejoin="round" stroke-linecap="round"/>
<path d="M 565 1003.5 L 573.4 995.9" fill="none" stroke="#000" stroke-width="3.47" stroke-linejoin="round" stroke-linecap="round"/>
<path d="M 581.7 994.3 C 591.8 994.3 598.5 996.8 603.6 1001" fill="none" stroke="#000" stroke-width="3.47" stroke-linejoin="round" stroke-linecap="round"/>
<path d="M 593.5 1016.1 L 605.2 1013.6 L 605.2 1006.8" fill="none" stroke="#000" stroke-width="3.47" stroke-linejoin="round" stroke-linecap="round"/>
<path d="M 607.8 1020.3 L 635.4 1026.1" fill="none" stroke="#000" stroke-width="3.47" stroke-linejoin="round" stroke-linecap="round"/>
<path d="M 635.4 1020.3 L 642.1 1015.2" fill="none" stroke="#000" stroke-width="3.47" stroke-linejoin="round" stroke-linecap="round"/>
<path d="M 649.7 1013.6 L 669 1016.9" fill="none" stroke="#000" stroke-width="3.47" stroke-linejoin="round" stroke-linecap="round"/>
<path d="M 672.3 1020.3 C 677.4 1030.3 675.7 1043.8 664 1049.6" fill="none" stroke="#000" stroke-width="3.47" stroke-linejoin="round" stroke-linecap="round"/>
<path d="M 648 1030.3 L 657.2 1033.7 L 655.6 1052.1" fill="none" stroke="#000" stroke-width="3.47" stroke-linejoin="round" stroke-linecap="round"/>
<path d="M 644.7 1053.8 L 672.3 1062.2 C 674.9 1067.2 674 1072.3 662.3 1078.2 L 652.2 1075.6" fill="none" stroke="#000" stroke-width="3.47" stroke-linejoin="round" stroke-linecap="round"/>
<path d="M 596.8 1049.6 C 605.2 1043.8 618.7 1042.9 630.4 1045.4 C 633.8 1048.8 632.1 1053.8 617 1060.5" fill="none" stroke="#000" stroke-width="3.47" stroke-linejoin="round" stroke-linecap="round"/>
<path d="M 540.6 1076.5 L 586.8 1054.7" fill="none" stroke="#000" stroke-width="3.47" stroke-linejoin="round" stroke-linecap="round"/>
<path d="M 585.9 1073.1 L 605.2 1065.6" fill="none" stroke="#000" stroke-width="3.47" stroke-linejoin="round" stroke-linecap="round"/>
<path d="M 600.2 1081.5 L 630.4 1069.8 L 645.5 1073.1" fill="none" stroke="#000" stroke-width="3.47" stroke-linejoin="round" stroke-linecap="round"/>
<path d="M 532.2 1082.3 L 512.1 1094.9 L 534.8 1100" fill="none" stroke="#000" stroke-width="3.47" stroke-linejoin="round" stroke-linecap="round"/>
<path d="M 544.8 1098.3 L 558.3 1095.8" fill="none" stroke="#000" stroke-width="3.47" stroke-linejoin="round" stroke-linecap="round"/>
<path d="M 571.7 1093.3 L 591 1085.7" fill="none" stroke="#000" stroke-width="3.47" stroke-linejoin="round" stroke-linecap="round"/>
<polyline points="615.3,1164.6 740,1204.8 835,1235 1635,1484.7 1670,1497.7 1901.7,1571" fill="none" stroke="#000" stroke-width="2.45" />
<polyline points="595.2,1179.7 740,1226.6 835,1256.7 1558.3,1484.7 1670,1523.3 1893.3,1596" fill="none" stroke="#000" stroke-width="4.28" />
<path d="M 1901.7 1571 L 1888.3 1587.7 L 1912.7 1593.3 L 1893.3 1597.7 L 1888.3 1587.7" fill="none" stroke="#000" stroke-width="3.06" stroke-linejoin="round" stroke-linecap="round"/>
<ellipse cx="1879" cy="1572.7" rx="3.6" ry="2.6" fill="#000" stroke="#000" stroke-width="0" />
<ellipse cx="1919.5" cy="1551.5" rx="7.6" ry="6.2" fill="#fff" stroke="#000" stroke-width="3.26" transform="rotate(-28 1919.5 1551.5)"/>
<ellipse cx="2015" cy="1496.5" rx="7.6" ry="6.2" fill="#fff" stroke="#000" stroke-width="3.26" transform="rotate(-28 2015 1496.5)"/>
<polygon points="1930.8,1556 1921.9,1539.9 2003.3,1495 2012.2,1511.1" fill="#fff" stroke="#000" stroke-width="3.26" stroke-linejoin="round"/>
<path d="M1922.8 1539.4Q1933.4 1544.1 1932.6 1555" fill="none" stroke="#000" stroke-width="3.06" />
<path d="M1930.5 1535.2Q1941.1 1539.8 1940.3 1550.8" fill="none" stroke="#000" stroke-width="3.06" />
<path d="M1938.2 1530.9Q1948.8 1535.6 1948 1546.5" fill="none" stroke="#000" stroke-width="3.06" />
<path d="M1945.9 1526.7Q1956.5 1531.3 1955.7 1542.3" fill="none" stroke="#000" stroke-width="3.06" />
<path d="M1953.6 1522.4Q1964.2 1527.1 1963.4 1538" fill="none" stroke="#000" stroke-width="3.06" />
<path d="M1961.3 1518.2Q1971.9 1522.8 1971.1 1533.8" fill="none" stroke="#000" stroke-width="3.06" />
<path d="M1969 1513.9Q1979.6 1518.6 1978.8 1529.5" fill="none" stroke="#000" stroke-width="3.06" />
<path d="M1976.7 1509.7Q1987.3 1514.3 1986.5 1525.3" fill="none" stroke="#000" stroke-width="3.06" />
<path d="M1984.4 1505.4Q1995 1510.1 1994.2 1521" fill="none" stroke="#000" stroke-width="3.06" />
<path d="M1992.1 1501.2Q2002.7 1505.8 2001.9 1516.8" fill="none" stroke="#000" stroke-width="3.06" />
<path d="M1999.8 1496.9Q2010.4 1501.6 2009.6 1512.5" fill="none" stroke="#000" stroke-width="3.06" />
<polyline points="521.7,1305 128.3,1689.3" fill="none" stroke="#000" stroke-width="3.06" />
<polyline points="541.7,1311.7 171.7,1686" fill="none" stroke="#000" stroke-width="3.06" />
<path d="M 521.7 1305 C 525 1298.3 533.3 1298.3 541.7 1311.7" fill="none" stroke="#000" stroke-width="3.06" stroke-linejoin="round" stroke-linecap="round"/>
<path d="M 128.3 1689.3 C 131.7 1695.3 150 1696 171.7 1688.7" fill="none" stroke="#000" stroke-width="3.26" stroke-linejoin="round" stroke-linecap="round"/>
<polyline points="171.7,1687.7 506.2,1510.7 621.9,1450.3" fill="none" stroke="#000" stroke-width="3.26" />
<polyline points="226.7,1635 416.7,1537.7" fill="none" stroke="#000" stroke-width="3.06" />
<polyline points="494.4,1495.6 591.7,1443.6" fill="none" stroke="#000" stroke-width="3.06" />
<path d="M 591.7 1443.6 C 598.5 1439.4 605.2 1440.3 603.8 1444.5 C 601.8 1448.7 591.7 1449.5 590.1 1453.7 C 591.7 1457.9 605.2 1453.7 615.2 1447.8 C 620.3 1446.1 623.6 1448.7 621.1 1451.2" fill="none" stroke="#000" stroke-width="3.26" stroke-linejoin="round" stroke-linecap="round"/>
<path d="M 418.3 1537.7 C 430 1532.7 433.3 1531 436.7 1522.7 L 445 1497.7 L 466.7 1486 L 473.3 1485.3 L 493.3 1494.3 C 480 1496 471.7 1499.3 466.7 1512.7 L 456.7 1537.7 L 440 1546 C 430 1546 423.3 1544.3 418.3 1537.7 Z" fill="#fff" stroke="#000" stroke-width="2.86" stroke-linejoin="round" stroke-linecap="round"/>
<path d="M 480 1499.3 C 473.3 1504.3 473.3 1512.7 483.3 1516 L 496.7 1519.3 C 506.7 1516 508.3 1507.7 500 1506 M 481.7 1497.7 C 483.3 1502.7 490 1501 488.3 1497.7" fill="none" stroke="#000" stroke-width="2.65" stroke-linejoin="round" stroke-linecap="round"/>
<path d="M 455 1499.3 L 461.7 1501 M 437.3 1534.3 L 444 1536.7" fill="none" stroke="#000" stroke-width="2.45" stroke-linejoin="round" stroke-linecap="round"/>
<polyline points="1265,1535.5 963.3,1849.3" fill="none" stroke="#000" stroke-width="2.86" />
<polyline points="1275.5,1543 998.3,1832.7 986.7,1844.3" fill="none" stroke="#000" stroke-width="4.08" />
<path d="M1265 1535.5C1266.5 1530 1273 1529 1276.5 1532.5C1279.5 1536.5 1278 1540.5 1275.5 1543" fill="none" stroke="#000" stroke-width="4.28" />
<path d="M 963.3 1849.3 L 968.3 1853.3 L 991.7 1853.3 L 1078.3 1820 L 1181.7 1737.7 L 1308.3 1675.3 L 1351.7 1665.3 L 1328.3 1656 L 1295 1661 L 1245 1686" fill="none" stroke="#000" stroke-width="3.06" stroke-linejoin="round" stroke-linecap="round"/>
<path d="M 998.3 1831 L 1058.3 1809.3 L 1163.3 1731 L 1201.7 1712.7" fill="none" stroke="#000" stroke-width="2.65" stroke-linejoin="round" stroke-linecap="round"/>
<path d="M 1058.3 1809.3 L 1078.3 1817.7 M 1163.3 1731 L 1180 1737.7 M 1295 1661 L 1308.3 1674.3 M 1325 1657.7 L 1327.7 1669.3 L 1350 1665.3" fill="none" stroke="#000" stroke-width="2.65" stroke-linejoin="round" stroke-linecap="round"/>
<path d="M 1190 1716 L 1200 1689.3 L 1205 1682.7 L 1225 1672.7 L 1243.3 1682.7 L 1245 1699.3 L 1205 1724.3 Z" fill="#fff" stroke="#000" stroke-width="2.86" stroke-linejoin="round" stroke-linecap="round"/>
<path d="M 1205 1724.3 L 1215 1699.3 C 1218.3 1692.7 1225 1689.3 1243.3 1682.7 M 1205 1684.3 L 1213.3 1691 M 1218.3 1697.7 L 1243.3 1696" fill="none" stroke="#000" stroke-width="2.65" stroke-linejoin="round" stroke-linecap="round"/>
<polygon points="588.3,1636 641.7,1555.3 681.7,1570 783.3,1522 813.3,1533.7 716.7,1583.3 754,1602" fill="#000" stroke="#000" stroke-width="2" stroke-linejoin="round"/>
<path d="M 1755.4 1244.5 L 1778.9 1230.3 L 1785.6 1230.3 L 1862.8 1252.9 L 1861.9 1257.1 L 1837.6 1268.9 L 1762.1 1282.3 L 1744.5 1277.2 Z" fill="#fff" stroke="#000" stroke-width="3.26" stroke-linejoin="round" stroke-linecap="round"/>
<line x1="1753.8" y1="1249.2" x2="1762.8" y2="1250.7" stroke="#000" stroke-width="2.24" />
<line x1="1752.3" y1="1253.9" x2="1761.3" y2="1255.4" stroke="#000" stroke-width="2.24" />
<line x1="1750.7" y1="1258.6" x2="1759.7" y2="1260.1" stroke="#000" stroke-width="2.24" />
<line x1="1749.1" y1="1263.2" x2="1758.1" y2="1264.7" stroke="#000" stroke-width="2.24" />
<line x1="1747.6" y1="1267.9" x2="1756.6" y2="1269.4" stroke="#000" stroke-width="2.24" />
<line x1="1746" y1="1272.6" x2="1755" y2="1274.1" stroke="#000" stroke-width="2.24" />
<line x1="1770.5" y1="1280.8" x2="1761.5" y2="1277.3" stroke="#000" stroke-width="2.24" />
<line x1="1778.9" y1="1279.3" x2="1769.9" y2="1275.8" stroke="#000" stroke-width="2.24" />
<line x1="1787.2" y1="1277.8" x2="1778.2" y2="1274.3" stroke="#000" stroke-width="2.24" />
<line x1="1795.6" y1="1276.3" x2="1786.6" y2="1272.8" stroke="#000" stroke-width="2.24" />
<line x1="1804" y1="1274.8" x2="1795" y2="1271.3" stroke="#000" stroke-width="2.24" />
<line x1="1812.4" y1="1273.3" x2="1803.4" y2="1269.8" stroke="#000" stroke-width="2.24" />
<line x1="1820.8" y1="1271.8" x2="1811.8" y2="1268.3" stroke="#000" stroke-width="2.24" />
<line x1="1829.2" y1="1270.4" x2="1820.2" y2="1266.9" stroke="#000" stroke-width="2.24" />
<path d="M 1856 1253.8 L 1839.3 1268" fill="none" stroke="#000" stroke-width="4.08" stroke-linejoin="round" stroke-linecap="round"/>
<path d="M1779.1 1245.9A5 3.2 0 1 1 1784.9 1246.1" fill="none" stroke="#000" stroke-width="3.37" />
<path d="M 1829.2 1256.8 L 1836.2 1252.4 L 1842.6 1256.8 L 1836.2 1259.1 Z" fill="#000" stroke="#000" stroke-width="2.04" stroke-linejoin="round" stroke-linecap="round"/>
<path d="M1825 1212.3L1825 1218.1C1825 1223.7 1829.9 1226.5 1837.2 1226.5C1844.5 1226.5 1849.5 1223.7 1849.5 1218.1L1849.5 1212.3Z" fill="#000" stroke="#000" stroke-width="2.65" stroke-linejoin="round"/>
<ellipse cx="1837.2" cy="1222" rx="6.9" ry="3.3" fill="#fff" stroke="#000" stroke-width="0" />
<ellipse cx="1837.2" cy="1212.3" rx="11.8" ry="5.8" fill="#fff" stroke="#000" stroke-width="2.2" />
<ellipse cx="1837.2" cy="1212" rx="6.1" ry="3" fill="#fff" stroke="#000" stroke-width="2.35" />
<ellipse cx="1836.7" cy="1211.7" rx="1.9" ry="1.3" fill="#000" stroke="#000" stroke-width="0" />
<line x1="1836.7" y1="1230.5" x2="1836.7" y2="1254" stroke="#000" stroke-width="2.65" />
<line x1="1836.3" y1="1273" x2="1836.3" y2="1297" stroke="#000" stroke-width="2.65" />
<path d="M1831 1320L1831 1298Q1836 1293 1841 1298L1841 1320" fill="#fff" stroke="#000" stroke-width="2.65" stroke-linejoin="round" stroke-linecap="round"/>
<line x1="1832" y1="1301" x2="1837" y2="1301.8" stroke="#000" stroke-width="1.63" />
<line x1="1832" y1="1304.4" x2="1837" y2="1305.2" stroke="#000" stroke-width="1.63" />
<line x1="1832" y1="1307.8" x2="1837" y2="1308.6" stroke="#000" stroke-width="1.63" />
<line x1="1832" y1="1311.2" x2="1837" y2="1312" stroke="#000" stroke-width="1.63" />
<line x1="1832.6" y1="1299" x2="1832.6" y2="1316" stroke="#000" stroke-width="2.65" />
<path d="M1827 1321A9 5 0 1 0 1845 1321" fill="#fff" stroke="#000" stroke-width="3.06" />
<path d="M1827 1321Q1836 1316 1845 1321" fill="none" stroke="#000" stroke-width="2.45" />
<path d="M 1837.6 1279.8 L 1857.7 1285.6 M 1862.4 1287 L 1864.8 1287.7 M 1870.3 1289.3 L 1889.6 1294.9 L 1889.6 1308.3" fill="none" stroke="#000" stroke-width="2.86" stroke-linejoin="round" stroke-linecap="round"/>
<path d="M1882.8 1340L1882.8 1312Q1888.3 1307 1893.8 1312L1893.8 1340" fill="#fff" stroke="#000" stroke-width="2.65" stroke-linejoin="round" stroke-linecap="round"/>
<line x1="1883.8" y1="1315" x2="1889.3" y2="1315.8" stroke="#000" stroke-width="1.63" />
<line x1="1883.8" y1="1318.4" x2="1889.3" y2="1319.2" stroke="#000" stroke-width="1.63" />
<line x1="1883.8" y1="1321.8" x2="1889.3" y2="1322.6" stroke="#000" stroke-width="1.63" />
<line x1="1883.8" y1="1325.2" x2="1889.3" y2="1326" stroke="#000" stroke-width="1.63" />
<line x1="1883.8" y1="1328.6" x2="1889.3" y2="1329.4" stroke="#000" stroke-width="1.63" />
<line x1="1883.8" y1="1332" x2="1889.3" y2="1332.8" stroke="#000" stroke-width="1.63" />
<line x1="1884.4" y1="1313" x2="1884.4" y2="1336" stroke="#000" stroke-width="2.65" />
<path d="M1876.3 1341A12 8 0 1 0 1900.3 1341" fill="#fff" stroke="#000" stroke-width="3.06" />
<path d="M1876.3 1341Q1888.3 1336 1900.3 1341" fill="none" stroke="#000" stroke-width="2.45" />
<path d="M2235.3 1051.8L2235.3 1057.4C2235.3 1062.9 2240.1 1065.7 2247.3 1065.7C2254.5 1065.7 2259.3 1062.9 2259.3 1057.4L2259.3 1051.8Z" fill="#000" stroke="#000" stroke-width="2.65" stroke-linejoin="round"/>
<ellipse cx="2247.3" cy="1061.3" rx="6.7" ry="3.2" fill="#fff" stroke="#000" stroke-width="0" />
<ellipse cx="2247.3" cy="1051.8" rx="11.5" ry="5.6" fill="#fff" stroke="#000" stroke-width="2.14" />
<ellipse cx="2247.3" cy="1051.5" rx="6" ry="2.9" fill="#fff" stroke="#000" stroke-width="2.28" />
<ellipse cx="2246.8" cy="1051.2" rx="1.8" ry="1.3" fill="#000" stroke="#000" stroke-width="0" />
<path d="M2241.5 1114L2241.5 1078Q2246.5 1073 2251.5 1078L2251.5 1114" fill="#fff" stroke="#000" stroke-width="2.65" stroke-linejoin="round" stroke-linecap="round"/>
<line x1="2242.5" y1="1081" x2="2247.5" y2="1081.8" stroke="#000" stroke-width="1.63" />
<line x1="2242.5" y1="1084.4" x2="2247.5" y2="1085.2" stroke="#000" stroke-width="1.63" />
<line x1="2242.5" y1="1087.8" x2="2247.5" y2="1088.6" stroke="#000" stroke-width="1.63" />
<line x1="2242.5" y1="1091.2" x2="2247.5" y2="1092" stroke="#000" stroke-width="1.63" />
<line x1="2242.5" y1="1094.6" x2="2247.5" y2="1095.4" stroke="#000" stroke-width="1.63" />
<line x1="2242.5" y1="1098" x2="2247.5" y2="1098.8" stroke="#000" stroke-width="1.63" />
<line x1="2242.5" y1="1101.4" x2="2247.5" y2="1102.2" stroke="#000" stroke-width="1.63" />
<line x1="2242.5" y1="1104.8" x2="2247.5" y2="1105.6" stroke="#000" stroke-width="1.63" />
<line x1="2243.1" y1="1079" x2="2243.1" y2="1110" stroke="#000" stroke-width="2.65" />
<path d="M2234.5 1115A12 7 0 1 0 2258.5 1115" fill="#fff" stroke="#000" stroke-width="3.06" />
<path d="M2234.5 1115Q2246.5 1110 2258.5 1115" fill="none" stroke="#000" stroke-width="2.45" />
<path d="M 2245.1 1132.5 L 2245.1 1151.4" fill="none" stroke="#000" stroke-width="2.65" stroke-linejoin="round" stroke-linecap="round"/>
<ellipse cx="2814.5" cy="982.3" rx="6.7" ry="5" fill="#fff" stroke="#000" stroke-width="3.47" transform="rotate(-35 2814.5 982.3)"/>
<path d="M 2808.6 986.2 L 2785.1 1005.5 M 2812.8 989.1 L 2791.8 1012.6" fill="none" stroke="#000" stroke-width="3.67" stroke-linejoin="round" stroke-linecap="round"/>
<path d="M 2738.2 1042.4 C 2739 1032.3 2742.3 1025.6 2749.1 1024.8 L 2764.2 1024.3 C 2772.6 1026.5 2775.1 1034 2776.7 1044.1 L 2776.7 1055.8 C 2774.2 1062.6 2767.5 1068.4 2757.4 1068.4 C 2747.4 1068.4 2739.8 1062.6 2737.7 1055.8 Z" fill="#000" stroke="#000" stroke-width="2.65" stroke-linejoin="round" stroke-linecap="round"/>
<path d="M 2746.5 1058.4 C 2747.4 1055 2754.1 1053.8 2757.4 1054.2 C 2762.5 1053.8 2767.5 1055.5 2768.4 1058.9 C 2767.5 1061.7 2762.5 1062.9 2757.4 1062.9 C 2752.4 1062.9 2747.4 1061.7 2746.5 1058.4 Z" fill="#fff" stroke="#000" stroke-width="0" stroke-linejoin="round" stroke-linecap="round"/>
<path d="M 2742.3 1037.4 L 2743.2 1032.3 L 2747.4 1028.2 L 2749.1 1037.4 Z M 2768.4 1037.4 L 2767.5 1030.7 L 2771.7 1033.2 L 2772.6 1038.2 Z M 2750.7 1026.5 L 2757.4 1025.6 L 2757.4 1030.7 L 2752.4 1032.3 Z" fill="#fff" stroke="#000" stroke-width="0" stroke-linejoin="round" stroke-linecap="round"/>
<path d="M 2747.4 1045.8 L 2755.8 1047.4 L 2747.4 1050 Z M 2760.8 1047.4 L 2770 1045.4 L 2769.2 1049.5 Z M 2750.7 1037.4 L 2757.4 1039.1 L 2755.8 1041.6 Z" fill="#fff" stroke="#000" stroke-width="0" stroke-linejoin="round" stroke-linecap="round"/>
<ellipse cx="2782" cy="1056.3" rx="2.6" ry="2.6" fill="#000" stroke="#000" stroke-width="0" />
<path d="M2751.8 1089.8A18.2 9.8 0 1 0 2762.8 1089.6" fill="none" stroke="#000" stroke-width="3.47" stroke-linecap="round"/>
<ellipse cx="2756.1" cy="1166.6" rx="25.2" ry="10.1" fill="#fff" stroke="#000" stroke-width="3.67" />
<path d="M 2731.4 1148.1 L 2731.4 1153.2 C 2734 1159.9 2747.4 1163.2 2757.4 1162.9 C 2769.2 1162.9 2779.3 1159 2781.8 1153.2 L 2782.3 1148.1" fill="#fff" stroke="#000" stroke-width="3.47" stroke-linejoin="round" stroke-linecap="round"/>
<ellipse cx="2756.6" cy="1149" rx="25.5" ry="9.7" fill="#fff" stroke="#000" stroke-width="3.67" />
<path d="M 2741.8 1124.6 L 2741.8 1139.7 C 2747.4 1143.9 2767.5 1143.9 2773.9 1139.7 L 2773.9 1124.6" fill="#fff" stroke="#000" stroke-width="4.08" stroke-linejoin="round" stroke-linecap="round"/>
<ellipse cx="2757.8" cy="1124.6" rx="15.9" ry="7.6" fill="#fff" stroke="#000" stroke-width="3.88" />
<ellipse cx="2755.8" cy="1125" rx="9.2" ry="3.7" fill="#fff" stroke="#000" stroke-width="3.26" />
<path d="M 2764.2 1128 L 2765 1139.7" fill="none" stroke="#000" stroke-width="4.08" stroke-linejoin="round" stroke-linecap="round"/>
<ellipse cx="2740.7" cy="1152.3" rx="1.5" ry="1.5" fill="#000" stroke="#000" stroke-width="0" />
<ellipse cx="2749.1" cy="1154.8" rx="1.5" ry="1.5" fill="#000" stroke="#000" stroke-width="0" />
<ellipse cx="2759.1" cy="1154" rx="1.5" ry="1.5" fill="#000" stroke="#000" stroke-width="0" />
<ellipse cx="2769.2" cy="1151.5" rx="1.5" ry="1.5" fill="#000" stroke="#000" stroke-width="0" />
<ellipse cx="2777.6" cy="1148.1" rx="1.5" ry="1.5" fill="#000" stroke="#000" stroke-width="0" />
<ellipse cx="2737.3" cy="1147.3" rx="1.5" ry="1.5" fill="#000" stroke="#000" stroke-width="0" />
<ellipse cx="2747.4" cy="1166.6" rx="1.5" ry="1.5" fill="#000" stroke="#000" stroke-width="0" />
<ellipse cx="2760.8" cy="1169.1" rx="1.5" ry="1.5" fill="#000" stroke="#000" stroke-width="0" />
<ellipse cx="2740.7" cy="1168.3" rx="1.5" ry="1.5" fill="#000" stroke="#000" stroke-width="0" />
<ellipse cx="2770.9" cy="1164.9" rx="1.5" ry="1.5" fill="#000" stroke="#000" stroke-width="0" />
<ellipse cx="2734" cy="1166.6" rx="1.5" ry="1.5" fill="#000" stroke="#000" stroke-width="0" />
<ellipse cx="2777.6" cy="1166.6" rx="1.5" ry="1.5" fill="#000" stroke="#000" stroke-width="0" />
<path d="M 2742.3 1159.9 C 2750.7 1162.4 2764.2 1162.4 2772.6 1159" fill="none" stroke="#000" stroke-width="5.1" stroke-linejoin="round" stroke-linecap="round"/>
<path d="M 2721 1287.4 C 2721.8 1300.8 2731.9 1314.2 2752 1317.6 C 2772.1 1318.4 2788.9 1307.5 2790.3 1289.1 C 2789.8 1279 2785.6 1271.4 2778.9 1268.9 L 2731.9 1268.9 C 2725.2 1272.3 2721 1279 2721 1287.4 Z" fill="#fff" stroke="#000" stroke-width="3.47" stroke-linejoin="round" stroke-linecap="round"/>
<path d="M 2783.9 1274 C 2790.6 1280.7 2792.3 1294.1 2785.6 1305.8 C 2782.2 1310.9 2778.9 1312.6 2775.5 1313.4 C 2780.5 1304.2 2782.2 1289.1 2783.9 1274 Z" fill="#000" stroke="#000" stroke-width="2.04" stroke-linejoin="round" stroke-linecap="round"/>
<path d="M 2725.2 1279 C 2726.8 1289.1 2738.6 1295.8 2755.4 1295.8 C 2772.1 1295.8 2783.9 1289.1 2784.7 1279" fill="none" stroke="#000" stroke-width="3.47" stroke-linejoin="round" stroke-linecap="round"/>
<path d="M 2720.1 1280.7 L 2720.1 1288.2 M 2719.3 1295.8 L 2719.8 1300.8" fill="none" stroke="#000" stroke-width="4.59" stroke-linejoin="round" stroke-linecap="round"/>
<path d="M 2733.6 1258.9 C 2731.9 1267.2 2731.9 1275.6 2735.2 1280.7 C 2741.9 1287.4 2768.8 1287.4 2777.2 1280.7 C 2782.2 1275.6 2782.2 1263.9 2780.5 1255.5 L 2733.6 1258.9 Z" fill="#fff" stroke="#000" stroke-width="4.28" stroke-linejoin="round" stroke-linecap="round"/>
<path d="M 2735.2 1274 C 2745.3 1280.7 2767.1 1280.7 2777.2 1274" fill="none" stroke="#000" stroke-width="4.59" stroke-linejoin="round" stroke-linecap="round"/>
<path d="M 2738.6 1279.8 C 2748.7 1284.9 2765.4 1284.9 2774.7 1279" fill="none" stroke="#000" stroke-width="5.1" stroke-linejoin="round" stroke-linecap="round"/>
<ellipse cx="2756.2" cy="1263.9" rx="19.8" ry="6" fill="#fff" stroke="#000" stroke-width="4.08" />
<ellipse cx="2747" cy="1268.1" rx="1.5" ry="1.5" fill="#000" stroke="#000" stroke-width="0" />
<ellipse cx="2762.1" cy="1264.7" rx="1.5" ry="1.5" fill="#000" stroke="#000" stroke-width="0" />
<ellipse cx="2768.8" cy="1267.2" rx="1.5" ry="1.5" fill="#000" stroke="#000" stroke-width="0" />
<ellipse cx="2775.5" cy="1276.5" rx="1.5" ry="1.5" fill="#000" stroke="#000" stroke-width="0" />
<ellipse cx="2770.5" cy="1280.7" rx="1.5" ry="1.5" fill="#000" stroke="#000" stroke-width="0" />
<ellipse cx="2740.3" cy="1271.4" rx="1.5" ry="1.5" fill="#000" stroke="#000" stroke-width="0" />
<ellipse cx="2778.9" cy="1267.2" rx="1.5" ry="1.5" fill="#000" stroke="#000" stroke-width="0" />
<path d="M 2735.2 1258.9 L 2735.2 1270.6 M 2779.7 1257.2 L 2780.2 1270.6" fill="none" stroke="#000" stroke-width="5.1" stroke-linejoin="round" stroke-linecap="round"/>
<path d="M 2744 1198.5 L 2744 1230.3 L 2739.9 1255.5 C 2745.3 1259.7 2767.1 1259.7 2773 1255.5 L 2770.1 1230.3 L 2770.1 1198.5" fill="#fff" stroke="#000" stroke-width="3.88" stroke-linejoin="round" stroke-linecap="round"/>
<path d="M 2768 1230.3 L 2771.3 1255.5" fill="none" stroke="#000" stroke-width="6.12" stroke-linejoin="round" stroke-linecap="round"/>
<ellipse cx="2757" cy="1198.1" rx="13.1" ry="7" fill="#fff" stroke="#000" stroke-width="3.88" />
<path d="M 2744.5 1207.7 C 2750.3 1210.7 2763.8 1210.7 2769.6 1207.7" fill="none" stroke="#000" stroke-width="3.47" stroke-linejoin="round" stroke-linecap="round"/>
<path d="M 2744.5 1213.6 C 2750.3 1216.6 2763.8 1216.6 2769.6 1213.6" fill="none" stroke="#000" stroke-width="3.47" stroke-linejoin="round" stroke-linecap="round"/>
<path d="M 2744.5 1219.4 C 2750.3 1222.4 2763.8 1222.4 2769.6 1219.4" fill="none" stroke="#000" stroke-width="3.47" stroke-linejoin="round" stroke-linecap="round"/>
<path d="M 2744.5 1225.3 C 2750.3 1228.3 2763.8 1228.3 2769.6 1225.3" fill="none" stroke="#000" stroke-width="3.47" stroke-linejoin="round" stroke-linecap="round"/>
<path d="M 2745.3 1227.8 C 2752 1230.3 2762.1 1230.3 2769.6 1227.8" fill="none" stroke="#000" stroke-width="4.08" stroke-linejoin="round" stroke-linecap="round"/>
<path d="M 2676.5 1376.3 L 2701.7 1357 L 2753.7 1372.1 L 2752 1375.5 L 2691.6 1420.8 L 2679 1415.7 Z" fill="#fff" stroke="#000" stroke-width="3.47" stroke-linejoin="round" stroke-linecap="round"/>
<path d="M2700.2 1373.5A5.2 3.4 0 1 1 2706.1 1373.7" fill="none" stroke="#000" stroke-width="3.37" />
<path d="M2722 1379.3A5.2 3.4 0 1 1 2727.9 1379.5" fill="none" stroke="#000" stroke-width="3.37" />
<path d="M 2728.5 1396.4 L 2729.4 1406.5 M 2726.8 1406.8 L 2733.6 1407.9" fill="none" stroke="#000" stroke-width="2.45" stroke-linejoin="round" stroke-linecap="round"/>
<path d="M 2713.3 1418.3 C 2713.3 1426.7 2721.7 1430 2728.3 1430 C 2738.3 1430 2743.3 1425 2741.7 1418.3" fill="none" stroke="#000" stroke-width="2.45" stroke-linejoin="round" stroke-linecap="round"/>
<ellipse cx="2726.7" cy="1415.3" rx="8" ry="4.3" fill="#fff" stroke="#000" stroke-width="2.45" />
<path d="M2721 1468L2721 1438Q2726.5 1433 2732 1438L2732 1468" fill="#fff" stroke="#000" stroke-width="2.65" stroke-linejoin="round" stroke-linecap="round"/>
<line x1="2722" y1="1441" x2="2727.5" y2="1441.8" stroke="#000" stroke-width="1.63" />
<line x1="2722" y1="1444.4" x2="2727.5" y2="1445.2" stroke="#000" stroke-width="1.63" />
<line x1="2722" y1="1447.8" x2="2727.5" y2="1448.6" stroke="#000" stroke-width="1.63" />
<line x1="2722" y1="1451.2" x2="2727.5" y2="1452" stroke="#000" stroke-width="1.63" />
<line x1="2722" y1="1454.6" x2="2727.5" y2="1455.4" stroke="#000" stroke-width="1.63" />
<line x1="2722" y1="1458" x2="2727.5" y2="1458.8" stroke="#000" stroke-width="1.63" />
<line x1="2722" y1="1461.4" x2="2727.5" y2="1462.2" stroke="#000" stroke-width="1.63" />
<line x1="2722.6" y1="1439" x2="2722.6" y2="1464" stroke="#000" stroke-width="2.65" />
<path d="M2715.5 1469A11 6 0 1 0 2737.5 1469" fill="#fff" stroke="#000" stroke-width="3.06" />
<path d="M2715.5 1469Q2726.5 1464 2737.5 1469" fill="none" stroke="#000" stroke-width="2.45" />
<path d="M2495 1418L2495 1386Q2500 1381 2505 1386L2505 1418" fill="#fff" stroke="#000" stroke-width="2.65" stroke-linejoin="round" stroke-linecap="round"/>
<path d="M2489 1419A11 6 0 1 0 2511 1419" fill="#fff" stroke="#000" stroke-width="3.06" />
<path d="M2489 1419Q2500 1414 2511 1419" fill="none" stroke="#000" stroke-width="2.45" />
</svg>
</body></html>
